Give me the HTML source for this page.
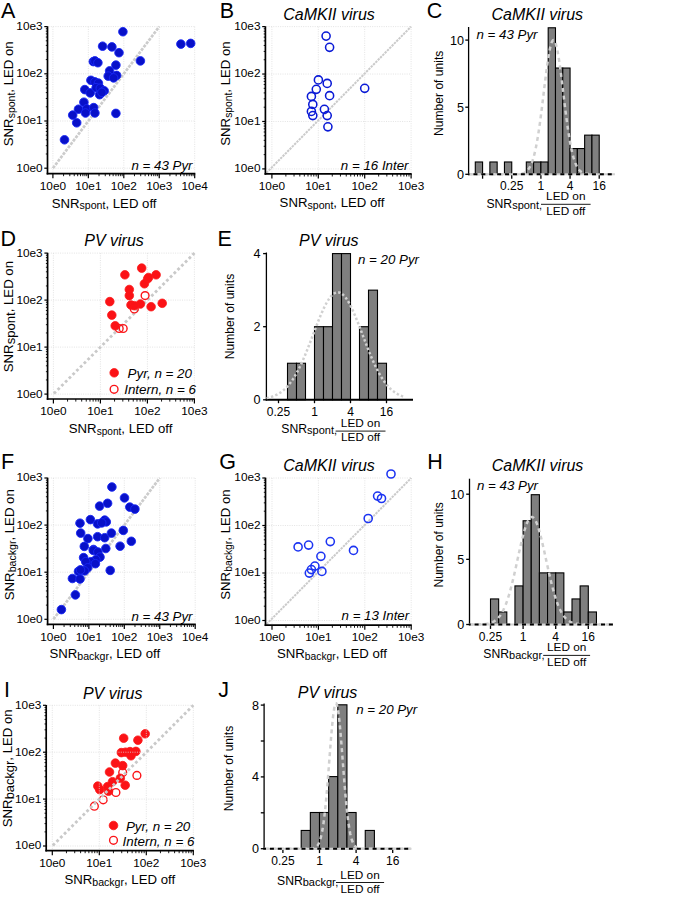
<!DOCTYPE html>
<html><head><meta charset="utf-8"><style>html,body{margin:0;padding:0;background:#fff;overflow:hidden;}svg{display:block;}</style></head>
<body>
<svg width="685" height="898" viewBox="0 0 685 898">
<rect width="685" height="898" fill="#fff"/>
<g font-family='"Liberation Sans", sans-serif' fill="#000">
<g stroke="#dcdcdc" stroke-width="0.8" stroke-dasharray="1 1.3" fill="none">
<line x1="52.90" y1="26.60" x2="52.90" y2="172.60" />
<line x1="88.35" y1="26.60" x2="88.35" y2="172.60" />
<line x1="123.80" y1="26.60" x2="123.80" y2="172.60" />
<line x1="159.25" y1="26.60" x2="159.25" y2="172.60" />
<line x1="194.70" y1="26.60" x2="194.70" y2="172.60" />
<line x1="48.50" y1="168.20" x2="194.70" y2="168.20" />
<line x1="48.50" y1="121.00" x2="194.70" y2="121.00" />
<line x1="48.50" y1="73.80" x2="194.70" y2="73.80" />
<line x1="48.50" y1="26.60" x2="194.70" y2="26.60" />
</g>
<line x1="52.90" y1="168.20" x2="159.25" y2="26.60" stroke="#cccccc" stroke-width="2.7" stroke-dasharray="3 1.2"/>
<circle cx="122.9" cy="31.7" r="4.3" fill="#0810c8" stroke="#1828f4" stroke-width="0.9"/>
<circle cx="102.6" cy="46.2" r="4.3" fill="#0810c8" stroke="#1828f4" stroke-width="0.9"/>
<circle cx="111.9" cy="46.9" r="4.3" fill="#0810c8" stroke="#1828f4" stroke-width="0.9"/>
<circle cx="119.0" cy="52.7" r="4.3" fill="#0810c8" stroke="#1828f4" stroke-width="0.9"/>
<circle cx="180.9" cy="44.1" r="4.3" fill="#0810c8" stroke="#1828f4" stroke-width="0.9"/>
<circle cx="190.7" cy="43.4" r="4.3" fill="#0810c8" stroke="#1828f4" stroke-width="0.9"/>
<circle cx="140.4" cy="60.9" r="4.3" fill="#0810c8" stroke="#1828f4" stroke-width="0.9"/>
<circle cx="93.3" cy="61.6" r="4.3" fill="#0810c8" stroke="#1828f4" stroke-width="0.9"/>
<circle cx="94.9" cy="60.9" r="4.3" fill="#0810c8" stroke="#1828f4" stroke-width="0.9"/>
<circle cx="97.9" cy="62.7" r="4.3" fill="#0810c8" stroke="#1828f4" stroke-width="0.9"/>
<circle cx="115.9" cy="65.1" r="4.3" fill="#0810c8" stroke="#1828f4" stroke-width="0.9"/>
<circle cx="109.6" cy="70.9" r="4.3" fill="#0810c8" stroke="#1828f4" stroke-width="0.9"/>
<circle cx="108.2" cy="76.1" r="4.3" fill="#0810c8" stroke="#1828f4" stroke-width="0.9"/>
<circle cx="116.6" cy="75.4" r="4.3" fill="#0810c8" stroke="#1828f4" stroke-width="0.9"/>
<circle cx="113.6" cy="77.9" r="4.3" fill="#0810c8" stroke="#1828f4" stroke-width="0.9"/>
<circle cx="90.9" cy="80.3" r="4.3" fill="#0810c8" stroke="#1828f4" stroke-width="0.9"/>
<circle cx="94.9" cy="81.9" r="4.3" fill="#0810c8" stroke="#1828f4" stroke-width="0.9"/>
<circle cx="98.4" cy="83.1" r="4.3" fill="#0810c8" stroke="#1828f4" stroke-width="0.9"/>
<circle cx="84.8" cy="89.6" r="4.3" fill="#0810c8" stroke="#1828f4" stroke-width="0.9"/>
<circle cx="90.2" cy="92.9" r="4.3" fill="#0810c8" stroke="#1828f4" stroke-width="0.9"/>
<circle cx="96.1" cy="87.7" r="4.3" fill="#0810c8" stroke="#1828f4" stroke-width="0.9"/>
<circle cx="100.3" cy="88.2" r="4.3" fill="#0810c8" stroke="#1828f4" stroke-width="0.9"/>
<circle cx="104.2" cy="90.8" r="4.3" fill="#0810c8" stroke="#1828f4" stroke-width="0.9"/>
<circle cx="99.6" cy="94.7" r="4.3" fill="#0810c8" stroke="#1828f4" stroke-width="0.9"/>
<circle cx="101.9" cy="92.4" r="4.3" fill="#0810c8" stroke="#1828f4" stroke-width="0.9"/>
<circle cx="83.9" cy="102.2" r="4.3" fill="#0810c8" stroke="#1828f4" stroke-width="0.9"/>
<circle cx="78.5" cy="109.2" r="4.3" fill="#0810c8" stroke="#1828f4" stroke-width="0.9"/>
<circle cx="86.7" cy="108.8" r="4.3" fill="#0810c8" stroke="#1828f4" stroke-width="0.9"/>
<circle cx="85.5" cy="113.0" r="4.3" fill="#0810c8" stroke="#1828f4" stroke-width="0.9"/>
<circle cx="93.7" cy="107.6" r="4.3" fill="#0810c8" stroke="#1828f4" stroke-width="0.9"/>
<circle cx="94.9" cy="113.0" r="4.3" fill="#0810c8" stroke="#1828f4" stroke-width="0.9"/>
<circle cx="72.7" cy="115.1" r="4.3" fill="#0810c8" stroke="#1828f4" stroke-width="0.9"/>
<circle cx="76.7" cy="122.8" r="4.3" fill="#0810c8" stroke="#1828f4" stroke-width="0.9"/>
<circle cx="115.9" cy="113.4" r="4.3" fill="#0810c8" stroke="#1828f4" stroke-width="0.9"/>
<circle cx="64.5" cy="139.8" r="4.3" fill="#0810c8" stroke="#1828f4" stroke-width="0.9"/>
<g stroke="#000" stroke-width="1.7" fill="none">
<line x1="47.50" y1="26.30" x2="47.50" y2="174.45" />
<line x1="46.65" y1="173.60" x2="195.30" y2="173.60" />
</g>
<g stroke="#000" stroke-width="1.2" fill="none">
<line x1="44.30" y1="168.20" x2="47.50" y2="168.20" />
<line x1="45.80" y1="153.99" x2="47.50" y2="153.99" stroke-width="0.9" />
<line x1="45.80" y1="145.68" x2="47.50" y2="145.68" stroke-width="0.9" />
<line x1="45.80" y1="139.78" x2="47.50" y2="139.78" stroke-width="0.9" />
<line x1="45.80" y1="135.21" x2="47.50" y2="135.21" stroke-width="0.9" />
<line x1="45.80" y1="131.47" x2="47.50" y2="131.47" stroke-width="0.9" />
<line x1="45.80" y1="128.31" x2="47.50" y2="128.31" stroke-width="0.9" />
<line x1="45.80" y1="125.57" x2="47.50" y2="125.57" stroke-width="0.9" />
<line x1="45.80" y1="123.16" x2="47.50" y2="123.16" stroke-width="0.9" />
<line x1="44.30" y1="121.00" x2="47.50" y2="121.00" />
<line x1="45.80" y1="106.79" x2="47.50" y2="106.79" stroke-width="0.9" />
<line x1="45.80" y1="98.48" x2="47.50" y2="98.48" stroke-width="0.9" />
<line x1="45.80" y1="92.58" x2="47.50" y2="92.58" stroke-width="0.9" />
<line x1="45.80" y1="88.01" x2="47.50" y2="88.01" stroke-width="0.9" />
<line x1="45.80" y1="84.27" x2="47.50" y2="84.27" stroke-width="0.9" />
<line x1="45.80" y1="81.11" x2="47.50" y2="81.11" stroke-width="0.9" />
<line x1="45.80" y1="78.37" x2="47.50" y2="78.37" stroke-width="0.9" />
<line x1="45.80" y1="75.96" x2="47.50" y2="75.96" stroke-width="0.9" />
<line x1="44.30" y1="73.80" x2="47.50" y2="73.80" />
<line x1="45.80" y1="59.59" x2="47.50" y2="59.59" stroke-width="0.9" />
<line x1="45.80" y1="51.28" x2="47.50" y2="51.28" stroke-width="0.9" />
<line x1="45.80" y1="45.38" x2="47.50" y2="45.38" stroke-width="0.9" />
<line x1="45.80" y1="40.81" x2="47.50" y2="40.81" stroke-width="0.9" />
<line x1="45.80" y1="37.07" x2="47.50" y2="37.07" stroke-width="0.9" />
<line x1="45.80" y1="33.91" x2="47.50" y2="33.91" stroke-width="0.9" />
<line x1="45.80" y1="31.17" x2="47.50" y2="31.17" stroke-width="0.9" />
<line x1="45.80" y1="28.76" x2="47.50" y2="28.76" stroke-width="0.9" />
<line x1="44.30" y1="26.60" x2="47.50" y2="26.60" />
<line x1="52.90" y1="173.60" x2="52.90" y2="178.20" />
<line x1="63.57" y1="173.60" x2="63.57" y2="176.20" stroke-width="0.9" />
<line x1="69.81" y1="173.60" x2="69.81" y2="176.20" stroke-width="0.9" />
<line x1="74.24" y1="173.60" x2="74.24" y2="176.20" stroke-width="0.9" />
<line x1="77.68" y1="173.60" x2="77.68" y2="176.20" stroke-width="0.9" />
<line x1="80.49" y1="173.60" x2="80.49" y2="176.20" stroke-width="0.9" />
<line x1="82.86" y1="173.60" x2="82.86" y2="176.20" stroke-width="0.9" />
<line x1="84.91" y1="173.60" x2="84.91" y2="176.20" stroke-width="0.9" />
<line x1="86.73" y1="173.60" x2="86.73" y2="176.20" stroke-width="0.9" />
<line x1="88.35" y1="173.60" x2="88.35" y2="178.20" />
<line x1="99.02" y1="173.60" x2="99.02" y2="176.20" stroke-width="0.9" />
<line x1="105.26" y1="173.60" x2="105.26" y2="176.20" stroke-width="0.9" />
<line x1="109.69" y1="173.60" x2="109.69" y2="176.20" stroke-width="0.9" />
<line x1="113.13" y1="173.60" x2="113.13" y2="176.20" stroke-width="0.9" />
<line x1="115.94" y1="173.60" x2="115.94" y2="176.20" stroke-width="0.9" />
<line x1="118.31" y1="173.60" x2="118.31" y2="176.20" stroke-width="0.9" />
<line x1="120.36" y1="173.60" x2="120.36" y2="176.20" stroke-width="0.9" />
<line x1="122.18" y1="173.60" x2="122.18" y2="176.20" stroke-width="0.9" />
<line x1="123.80" y1="173.60" x2="123.80" y2="178.20" />
<line x1="134.47" y1="173.60" x2="134.47" y2="176.20" stroke-width="0.9" />
<line x1="140.71" y1="173.60" x2="140.71" y2="176.20" stroke-width="0.9" />
<line x1="145.14" y1="173.60" x2="145.14" y2="176.20" stroke-width="0.9" />
<line x1="148.58" y1="173.60" x2="148.58" y2="176.20" stroke-width="0.9" />
<line x1="151.39" y1="173.60" x2="151.39" y2="176.20" stroke-width="0.9" />
<line x1="153.76" y1="173.60" x2="153.76" y2="176.20" stroke-width="0.9" />
<line x1="155.81" y1="173.60" x2="155.81" y2="176.20" stroke-width="0.9" />
<line x1="157.63" y1="173.60" x2="157.63" y2="176.20" stroke-width="0.9" />
<line x1="159.25" y1="173.60" x2="159.25" y2="178.20" />
<line x1="169.92" y1="173.60" x2="169.92" y2="176.20" stroke-width="0.9" />
<line x1="176.16" y1="173.60" x2="176.16" y2="176.20" stroke-width="0.9" />
<line x1="180.59" y1="173.60" x2="180.59" y2="176.20" stroke-width="0.9" />
<line x1="184.03" y1="173.60" x2="184.03" y2="176.20" stroke-width="0.9" />
<line x1="186.84" y1="173.60" x2="186.84" y2="176.20" stroke-width="0.9" />
<line x1="189.21" y1="173.60" x2="189.21" y2="176.20" stroke-width="0.9" />
<line x1="191.26" y1="173.60" x2="191.26" y2="176.20" stroke-width="0.9" />
<line x1="193.08" y1="173.60" x2="193.08" y2="176.20" stroke-width="0.9" />
<line x1="194.70" y1="173.60" x2="194.70" y2="178.20" />
</g>
<text x="42.60" y="171.60" font-size="11.8" text-anchor="end" >10e0</text>
<text x="42.60" y="124.40" font-size="11.8" text-anchor="end" >10e1</text>
<text x="42.60" y="77.20" font-size="11.8" text-anchor="end" >10e2</text>
<text x="42.60" y="30.00" font-size="11.8" text-anchor="end" >10e3</text>
<text x="52.90" y="189.80" font-size="11.8" text-anchor="middle" >10e0</text>
<text x="88.35" y="189.80" font-size="11.8" text-anchor="middle" >10e1</text>
<text x="123.80" y="189.80" font-size="11.8" text-anchor="middle" >10e2</text>
<text x="159.25" y="189.80" font-size="11.8" text-anchor="middle" >10e3</text>
<text x="194.70" y="189.80" font-size="11.8" text-anchor="middle" >10e4</text>
<text x="1.00" y="17.60" font-size="21.5" text-anchor="start" >A</text>
<text x="51.70" y="207.60" font-size="13.2">SNR<tspan font-size="10.6" dy="1.7">spont</tspan><tspan dy="-1.7">, LED off</tspan></text>
<text transform="translate(12.60,146.20) rotate(-90)" font-size="13.2">SNR<tspan font-size="10.5" dy="2.0">spont</tspan><tspan dy="-2.0">, LED on</tspan></text>
<text x="192.50" y="170.10" font-size="13.3" text-anchor="end" font-style="italic" >n = 43 Pyr</text>
<g stroke="#dcdcdc" stroke-width="0.8" stroke-dasharray="1 1.3" fill="none">
<line x1="271.90" y1="26.61" x2="271.90" y2="172.90" />
<line x1="318.30" y1="26.61" x2="318.30" y2="172.90" />
<line x1="364.70" y1="26.61" x2="364.70" y2="172.90" />
<line x1="411.10" y1="26.61" x2="411.10" y2="172.90" />
<line x1="266.40" y1="168.90" x2="411.10" y2="168.90" />
<line x1="266.40" y1="121.47" x2="411.10" y2="121.47" />
<line x1="266.40" y1="74.04" x2="411.10" y2="74.04" />
<line x1="266.40" y1="26.61" x2="411.10" y2="26.61" />
</g>
<line x1="266.40" y1="172.90" x2="411.10" y2="26.61" stroke="#cbcbcb" stroke-width="2.0" stroke-dasharray="2.4 0.9"/>
<circle cx="326.1" cy="36.1" r="4.05" fill="none" stroke="#0a1ad6" stroke-width="1.55"/>
<circle cx="329.6" cy="47.3" r="4.05" fill="none" stroke="#0a1ad6" stroke-width="1.55"/>
<circle cx="318.4" cy="79.9" r="4.05" fill="none" stroke="#0a1ad6" stroke-width="1.55"/>
<circle cx="327.2" cy="83.4" r="4.05" fill="none" stroke="#0a1ad6" stroke-width="1.55"/>
<circle cx="316.3" cy="89.3" r="4.05" fill="none" stroke="#0a1ad6" stroke-width="1.55"/>
<circle cx="311.4" cy="96.4" r="4.05" fill="none" stroke="#0a1ad6" stroke-width="1.55"/>
<circle cx="329.6" cy="95.7" r="4.05" fill="none" stroke="#0a1ad6" stroke-width="1.55"/>
<circle cx="364.7" cy="88.3" r="4.05" fill="none" stroke="#0a1ad6" stroke-width="1.55"/>
<circle cx="312.8" cy="104.4" r="4.05" fill="none" stroke="#0a1ad6" stroke-width="1.55"/>
<circle cx="311.4" cy="111.4" r="4.05" fill="none" stroke="#0a1ad6" stroke-width="1.55"/>
<circle cx="312.8" cy="115.6" r="4.05" fill="none" stroke="#0a1ad6" stroke-width="1.55"/>
<circle cx="324.4" cy="109.3" r="4.05" fill="none" stroke="#0a1ad6" stroke-width="1.55"/>
<circle cx="327.2" cy="115.6" r="4.05" fill="none" stroke="#0a1ad6" stroke-width="1.55"/>
<circle cx="327.9" cy="126.8" r="4.05" fill="none" stroke="#0a1ad6" stroke-width="1.55"/>
<g stroke="#000" stroke-width="1.7" fill="none">
<line x1="265.40" y1="26.31" x2="265.40" y2="174.75" />
<line x1="264.55" y1="173.90" x2="411.70" y2="173.90" />
</g>
<g stroke="#000" stroke-width="1.2" fill="none">
<line x1="262.20" y1="168.90" x2="265.40" y2="168.90" />
<line x1="263.70" y1="154.62" x2="265.40" y2="154.62" stroke-width="0.9" />
<line x1="263.70" y1="146.27" x2="265.40" y2="146.27" stroke-width="0.9" />
<line x1="263.70" y1="140.34" x2="265.40" y2="140.34" stroke-width="0.9" />
<line x1="263.70" y1="135.75" x2="265.40" y2="135.75" stroke-width="0.9" />
<line x1="263.70" y1="131.99" x2="265.40" y2="131.99" stroke-width="0.9" />
<line x1="263.70" y1="128.82" x2="265.40" y2="128.82" stroke-width="0.9" />
<line x1="263.70" y1="126.07" x2="265.40" y2="126.07" stroke-width="0.9" />
<line x1="263.70" y1="123.64" x2="265.40" y2="123.64" stroke-width="0.9" />
<line x1="262.20" y1="121.47" x2="265.40" y2="121.47" />
<line x1="263.70" y1="107.19" x2="265.40" y2="107.19" stroke-width="0.9" />
<line x1="263.70" y1="98.84" x2="265.40" y2="98.84" stroke-width="0.9" />
<line x1="263.70" y1="92.91" x2="265.40" y2="92.91" stroke-width="0.9" />
<line x1="263.70" y1="88.32" x2="265.40" y2="88.32" stroke-width="0.9" />
<line x1="263.70" y1="84.56" x2="265.40" y2="84.56" stroke-width="0.9" />
<line x1="263.70" y1="81.39" x2="265.40" y2="81.39" stroke-width="0.9" />
<line x1="263.70" y1="78.64" x2="265.40" y2="78.64" stroke-width="0.9" />
<line x1="263.70" y1="76.21" x2="265.40" y2="76.21" stroke-width="0.9" />
<line x1="262.20" y1="74.04" x2="265.40" y2="74.04" />
<line x1="263.70" y1="59.76" x2="265.40" y2="59.76" stroke-width="0.9" />
<line x1="263.70" y1="51.41" x2="265.40" y2="51.41" stroke-width="0.9" />
<line x1="263.70" y1="45.48" x2="265.40" y2="45.48" stroke-width="0.9" />
<line x1="263.70" y1="40.89" x2="265.40" y2="40.89" stroke-width="0.9" />
<line x1="263.70" y1="37.13" x2="265.40" y2="37.13" stroke-width="0.9" />
<line x1="263.70" y1="33.96" x2="265.40" y2="33.96" stroke-width="0.9" />
<line x1="263.70" y1="31.21" x2="265.40" y2="31.21" stroke-width="0.9" />
<line x1="263.70" y1="28.78" x2="265.40" y2="28.78" stroke-width="0.9" />
<line x1="262.20" y1="26.61" x2="265.40" y2="26.61" />
<line x1="271.90" y1="173.90" x2="271.90" y2="178.50" />
<line x1="285.87" y1="173.90" x2="285.87" y2="176.50" stroke-width="0.9" />
<line x1="294.04" y1="173.90" x2="294.04" y2="176.50" stroke-width="0.9" />
<line x1="299.84" y1="173.90" x2="299.84" y2="176.50" stroke-width="0.9" />
<line x1="304.33" y1="173.90" x2="304.33" y2="176.50" stroke-width="0.9" />
<line x1="308.01" y1="173.90" x2="308.01" y2="176.50" stroke-width="0.9" />
<line x1="311.11" y1="173.90" x2="311.11" y2="176.50" stroke-width="0.9" />
<line x1="313.80" y1="173.90" x2="313.80" y2="176.50" stroke-width="0.9" />
<line x1="316.18" y1="173.90" x2="316.18" y2="176.50" stroke-width="0.9" />
<line x1="318.30" y1="173.90" x2="318.30" y2="178.50" />
<line x1="332.27" y1="173.90" x2="332.27" y2="176.50" stroke-width="0.9" />
<line x1="340.44" y1="173.90" x2="340.44" y2="176.50" stroke-width="0.9" />
<line x1="346.24" y1="173.90" x2="346.24" y2="176.50" stroke-width="0.9" />
<line x1="350.73" y1="173.90" x2="350.73" y2="176.50" stroke-width="0.9" />
<line x1="354.41" y1="173.90" x2="354.41" y2="176.50" stroke-width="0.9" />
<line x1="357.51" y1="173.90" x2="357.51" y2="176.50" stroke-width="0.9" />
<line x1="360.20" y1="173.90" x2="360.20" y2="176.50" stroke-width="0.9" />
<line x1="362.58" y1="173.90" x2="362.58" y2="176.50" stroke-width="0.9" />
<line x1="364.70" y1="173.90" x2="364.70" y2="178.50" />
<line x1="378.67" y1="173.90" x2="378.67" y2="176.50" stroke-width="0.9" />
<line x1="386.84" y1="173.90" x2="386.84" y2="176.50" stroke-width="0.9" />
<line x1="392.64" y1="173.90" x2="392.64" y2="176.50" stroke-width="0.9" />
<line x1="397.13" y1="173.90" x2="397.13" y2="176.50" stroke-width="0.9" />
<line x1="400.81" y1="173.90" x2="400.81" y2="176.50" stroke-width="0.9" />
<line x1="403.91" y1="173.90" x2="403.91" y2="176.50" stroke-width="0.9" />
<line x1="406.60" y1="173.90" x2="406.60" y2="176.50" stroke-width="0.9" />
<line x1="408.98" y1="173.90" x2="408.98" y2="176.50" stroke-width="0.9" />
<line x1="411.10" y1="173.90" x2="411.10" y2="178.50" />
</g>
<text x="260.50" y="172.30" font-size="11.8" text-anchor="end" >10e0</text>
<text x="260.50" y="124.87" font-size="11.8" text-anchor="end" >10e1</text>
<text x="260.50" y="77.44" font-size="11.8" text-anchor="end" >10e2</text>
<text x="260.50" y="30.01" font-size="11.8" text-anchor="end" >10e3</text>
<text x="271.90" y="190.10" font-size="11.8" text-anchor="middle" >10e0</text>
<text x="318.30" y="190.10" font-size="11.8" text-anchor="middle" >10e1</text>
<text x="364.70" y="190.10" font-size="11.8" text-anchor="middle" >10e2</text>
<text x="411.10" y="190.10" font-size="11.8" text-anchor="middle" >10e3</text>
<text x="219.70" y="17.80" font-size="21.5" text-anchor="start" >B</text>
<text x="329.00" y="19.60" font-size="16" text-anchor="middle" font-style="italic" >CaMKII virus</text>
<text x="279.60" y="207.00" font-size="13.2">SNR<tspan font-size="10.6" dy="2.0">spont</tspan><tspan dy="-2.0">, LED off</tspan></text>
<text transform="translate(229.70,145.70) rotate(-90)" font-size="13.2">SNR<tspan font-size="10.3" dy="2.0">spont</tspan><tspan dy="-2.0">, LED on</tspan></text>
<text x="408.50" y="170.10" font-size="13.3" text-anchor="end" font-style="italic" >n = 16 Inter</text>
<g fill="#7f7f7f" stroke="#000" stroke-width="1.1">
<rect x="475.29" y="161.98" width="7.29" height="12.32"/>
<rect x="489.87" y="161.98" width="7.29" height="12.32"/>
<rect x="504.45" y="161.98" width="7.29" height="12.32"/>
<rect x="526.32" y="161.98" width="7.29" height="12.32"/>
<rect x="533.61" y="161.98" width="7.29" height="12.32"/>
<rect x="540.90" y="161.98" width="7.29" height="12.32"/>
<rect x="548.19" y="27.78" width="7.29" height="146.52"/>
<rect x="555.48" y="68.04" width="7.29" height="106.26"/>
<rect x="562.77" y="68.04" width="7.29" height="106.26"/>
<rect x="570.06" y="148.56" width="7.29" height="25.74"/>
<rect x="577.35" y="148.56" width="7.29" height="25.74"/>
<rect x="584.64" y="135.14" width="7.29" height="39.16"/>
<rect x="591.93" y="135.14" width="7.29" height="39.16"/>
</g>
<g stroke="#000" stroke-width="1.3" fill="none">
<line x1="468.60" y1="27.00" x2="468.60" y2="175.10" />
<line x1="465.30" y1="174.30" x2="468.60" y2="174.30" />
<line x1="465.30" y1="107.20" x2="468.60" y2="107.20" />
<line x1="465.30" y1="40.10" x2="468.60" y2="40.10" />
<line x1="482.58" y1="174.30" x2="482.58" y2="178.70" />
<line x1="511.74" y1="174.30" x2="511.74" y2="178.70" />
<line x1="540.90" y1="174.30" x2="540.90" y2="178.70" />
<line x1="570.06" y1="174.30" x2="570.06" y2="178.70" />
<line x1="599.22" y1="174.30" x2="599.22" y2="178.70" />
</g>
<polyline points="468.60,174.30 469.21,174.30 469.82,174.30 470.43,174.30 471.04,174.30 471.65,174.30 472.26,174.30 472.87,174.30 473.48,174.30 474.09,174.30 474.70,174.30 475.31,174.30 475.92,174.30 476.53,174.30 477.14,174.30 477.75,174.30 478.36,174.30 478.97,174.30 479.58,174.30 480.19,174.30 480.80,174.30 481.41,174.30 482.02,174.30 482.63,174.30 483.24,174.30 483.85,174.30 484.46,174.30 485.07,174.30 485.68,174.30 486.29,174.30 486.90,174.30 487.51,174.30 488.12,174.30 488.73,174.30 489.34,174.30 489.95,174.30 490.56,174.30 491.17,174.30 491.78,174.30 492.39,174.30 493.00,174.30 493.61,174.30 494.22,174.30 494.83,174.30 495.44,174.30 496.05,174.30 496.66,174.30 497.27,174.30 497.88,174.30 498.49,174.30 499.10,174.30 499.71,174.30 500.32,174.30 500.93,174.30 501.54,174.30 502.15,174.30 502.76,174.30 503.37,174.30 503.98,174.30 504.59,174.30 505.20,174.30 505.81,174.30 506.42,174.30 507.03,174.30 507.64,174.30 508.25,174.30 508.86,174.30 509.47,174.29 510.08,174.29 510.69,174.29 511.30,174.29 511.91,174.28 512.52,174.28 513.13,174.27 513.74,174.26 514.35,174.25 514.96,174.24 515.57,174.23 516.18,174.20 516.79,174.18 517.40,174.15 518.01,174.11 518.62,174.06 519.23,174.00 519.84,173.93 520.45,173.84 521.06,173.74 521.67,173.61 522.28,173.46 522.89,173.28 523.50,173.06 524.11,172.80 524.72,172.50 525.33,172.14 525.94,171.73 526.55,171.24 527.16,170.68 527.77,170.03 528.38,169.28 528.99,168.42 529.60,167.44 530.21,166.33 530.82,165.08 531.43,163.67 532.04,162.10 532.65,160.34 533.26,158.40 533.87,156.25 534.48,153.89 535.09,151.32 535.70,148.51 536.31,145.48 536.92,142.22 537.53,138.73 538.14,135.01 538.75,131.06 539.36,126.91 539.97,122.56 540.58,118.02 541.19,113.33 541.80,108.50 542.41,103.56 543.02,98.54 543.63,93.48 544.24,88.42 544.85,83.40 545.46,78.45 546.07,73.62 546.68,68.96 547.29,64.51 547.90,60.32 548.51,56.42 549.12,52.86 549.73,49.67 550.34,46.90 550.95,44.57 551.56,42.70 552.17,41.33 552.78,40.46 553.39,40.11 554.00,40.27 554.61,40.96 555.22,42.15 555.83,43.84 556.44,46.01 557.05,48.62 557.66,51.66 558.27,55.09 558.88,58.87 559.49,62.97 560.10,67.33 560.71,71.92 561.32,76.69 561.93,81.60 562.54,86.60 563.15,91.66 563.76,96.72 564.37,101.76 564.98,106.73 565.59,111.60 566.20,116.35 566.81,120.94 567.42,125.36 568.03,129.59 568.64,133.61 569.25,137.41 569.86,140.99 570.47,144.33 571.08,147.45 571.69,150.33 572.30,152.99 572.91,155.42 573.52,157.65 574.13,159.66 574.74,161.48 575.35,163.12 575.96,164.59 576.57,165.90 577.18,167.06 577.79,168.08 578.40,168.98 579.01,169.77 579.62,170.45 580.23,171.05 580.84,171.56 581.45,172.00 582.06,172.38 582.67,172.70 583.28,172.97 583.89,173.20 584.50,173.40 585.11,173.56 585.72,173.70 586.33,173.81 586.94,173.90 587.55,173.98 588.16,174.04 588.77,174.09 589.38,174.14 589.99,174.17 590.60,174.20 591.21,174.22 591.82,174.24 592.43,174.25 593.04,174.26 593.65,174.27 594.26,174.28 594.87,174.28 595.48,174.29 596.09,174.29 596.70,174.29 597.31,174.29 597.92,174.30 598.53,174.30 599.14,174.30 599.75,174.30 600.36,174.30 600.97,174.30 601.58,174.30 602.19,174.30 602.80,174.30 603.41,174.30 604.02,174.30 604.63,174.30 605.24,174.30 605.85,174.30 606.46,174.30 607.07,174.30 607.68,174.30 608.29,174.30 608.90,174.30 609.51,174.30 610.12,174.30 610.73,174.30 611.34,174.30 611.95,174.30 612.56,174.30 613.17,174.30 613.78,174.30 614.39,174.30 615.00,174.30" fill="none" stroke="#d0d0d0" stroke-width="2.5" stroke-dasharray="4 3.6"/>
<line x1="468.60" y1="174.30" x2="615.00" y2="174.30" stroke-width="1.9" stroke="#d2d2d2"/>
<line x1="467.95" y1="174.30" x2="615.00" y2="174.30" stroke-width="2.0" stroke="#000" stroke-dasharray="4 3.9" stroke-dashoffset="2.4"/>
<text x="463.90" y="178.70" font-size="12.6" text-anchor="end" >0</text>
<text x="463.90" y="111.60" font-size="12.6" text-anchor="end" >5</text>
<text x="463.90" y="44.50" font-size="12.6" text-anchor="end" >10</text>
<text x="511.74" y="190.30" font-size="12" text-anchor="middle" >0.25</text>
<text x="540.90" y="190.30" font-size="12" text-anchor="middle" >1</text>
<text x="570.06" y="190.30" font-size="12" text-anchor="middle" >4</text>
<text x="599.22" y="190.30" font-size="12" text-anchor="middle" >16</text>
<text x="426.80" y="17.90" font-size="21.5" text-anchor="start" >C</text>
<text x="537.30" y="19.60" font-size="16" text-anchor="middle" font-style="italic" >CaMKII virus</text>
<text transform="translate(443.00,93.30) rotate(-90)" font-size="12.1" text-anchor="middle">Number of units</text>
<text x="537.50" y="39.30" font-size="13.3" text-anchor="end" font-style="italic" >n = 43 Pyr</text>
<text x="486.40" y="208.00" font-size="12.2">SNR<tspan font-size="11" dy="0.8">spont,</tspan></text>
<text x="565.80" y="200.30" font-size="11.8" text-anchor="middle" >LED on</text>
<text x="565.80" y="215.20" font-size="11.8" text-anchor="middle" >LED off</text>
<line x1="541.00" y1="204.30" x2="590.60" y2="204.30" stroke="#000" stroke-width="0.9"/>
<g stroke="#dcdcdc" stroke-width="0.8" stroke-dasharray="1 1.3" fill="none">
<line x1="53.40" y1="253.10" x2="53.40" y2="398.00" />
<line x1="100.40" y1="253.10" x2="100.40" y2="398.00" />
<line x1="147.40" y1="253.10" x2="147.40" y2="398.00" />
<line x1="194.40" y1="253.10" x2="194.40" y2="398.00" />
<line x1="48.60" y1="394.10" x2="194.40" y2="394.10" />
<line x1="48.60" y1="347.10" x2="194.40" y2="347.10" />
<line x1="48.60" y1="300.10" x2="194.40" y2="300.10" />
<line x1="48.60" y1="253.10" x2="194.40" y2="253.10" />
</g>
<line x1="53.90" y1="393.60" x2="194.40" y2="253.10" stroke="#c9c9c9" stroke-width="2.8" stroke-dasharray="2.8 2.5"/>
<circle cx="141.7" cy="268.1" r="4.3" fill="#fb1216" stroke="#fb1818" stroke-width="0.8"/>
<circle cx="124.9" cy="274.8" r="4.3" fill="#fb1216" stroke="#fb1818" stroke-width="0.8"/>
<circle cx="156.1" cy="274.8" r="4.3" fill="#fb1216" stroke="#fb1818" stroke-width="0.8"/>
<circle cx="147.7" cy="278.8" r="4.3" fill="#fb1216" stroke="#fb1818" stroke-width="0.8"/>
<circle cx="144.4" cy="283.8" r="4.3" fill="#fb1216" stroke="#fb1818" stroke-width="0.8"/>
<circle cx="129.3" cy="289.5" r="4.3" fill="#fb1216" stroke="#fb1818" stroke-width="0.8"/>
<circle cx="129.3" cy="295.6" r="4.3" fill="#fb1216" stroke="#fb1818" stroke-width="0.8"/>
<circle cx="109.8" cy="301.6" r="4.3" fill="#fb1216" stroke="#fb1818" stroke-width="0.8"/>
<circle cx="131.0" cy="305.0" r="4.3" fill="#fb1216" stroke="#fb1818" stroke-width="0.8"/>
<circle cx="140.4" cy="304.0" r="4.3" fill="#fb1216" stroke="#fb1818" stroke-width="0.8"/>
<circle cx="151.1" cy="306.7" r="4.3" fill="#fb1216" stroke="#fb1818" stroke-width="0.8"/>
<circle cx="162.2" cy="303.3" r="4.3" fill="#fb1216" stroke="#fb1818" stroke-width="0.8"/>
<circle cx="111.8" cy="315.1" r="4.3" fill="#fb1216" stroke="#fb1818" stroke-width="0.8"/>
<circle cx="115.2" cy="325.8" r="4.3" fill="#fb1216" stroke="#fb1818" stroke-width="0.8"/>
<circle cx="134.3" cy="305.7" r="4.3" fill="#fb1216" stroke="#fb1818" stroke-width="0.8"/>
<circle cx="148.5" cy="277.5" r="4.3" fill="#fb1216" stroke="#fb1818" stroke-width="0.8"/>
<circle cx="145.1" cy="295.6" r="3.9" fill="none" stroke="#fb1418" stroke-width="1.4"/>
<circle cx="134.3" cy="309.0" r="3.9" fill="none" stroke="#fb1418" stroke-width="1.4"/>
<circle cx="119.2" cy="328.5" r="3.9" fill="none" stroke="#fb1418" stroke-width="1.4"/>
<circle cx="123.2" cy="328.5" r="3.9" fill="none" stroke="#fb1418" stroke-width="1.4"/>
<g stroke="#000" stroke-width="1.7" fill="none">
<line x1="47.60" y1="252.80" x2="47.60" y2="399.85" />
<line x1="46.75" y1="399.00" x2="195.00" y2="399.00" />
</g>
<g stroke="#000" stroke-width="1.2" fill="none">
<line x1="44.40" y1="394.10" x2="47.60" y2="394.10" />
<line x1="45.90" y1="379.95" x2="47.60" y2="379.95" stroke-width="0.9" />
<line x1="45.90" y1="371.68" x2="47.60" y2="371.68" stroke-width="0.9" />
<line x1="45.90" y1="365.80" x2="47.60" y2="365.80" stroke-width="0.9" />
<line x1="45.90" y1="361.25" x2="47.60" y2="361.25" stroke-width="0.9" />
<line x1="45.90" y1="357.53" x2="47.60" y2="357.53" stroke-width="0.9" />
<line x1="45.90" y1="354.38" x2="47.60" y2="354.38" stroke-width="0.9" />
<line x1="45.90" y1="351.65" x2="47.60" y2="351.65" stroke-width="0.9" />
<line x1="45.90" y1="349.25" x2="47.60" y2="349.25" stroke-width="0.9" />
<line x1="44.40" y1="347.10" x2="47.60" y2="347.10" />
<line x1="45.90" y1="332.95" x2="47.60" y2="332.95" stroke-width="0.9" />
<line x1="45.90" y1="324.68" x2="47.60" y2="324.68" stroke-width="0.9" />
<line x1="45.90" y1="318.80" x2="47.60" y2="318.80" stroke-width="0.9" />
<line x1="45.90" y1="314.25" x2="47.60" y2="314.25" stroke-width="0.9" />
<line x1="45.90" y1="310.53" x2="47.60" y2="310.53" stroke-width="0.9" />
<line x1="45.90" y1="307.38" x2="47.60" y2="307.38" stroke-width="0.9" />
<line x1="45.90" y1="304.65" x2="47.60" y2="304.65" stroke-width="0.9" />
<line x1="45.90" y1="302.25" x2="47.60" y2="302.25" stroke-width="0.9" />
<line x1="44.40" y1="300.10" x2="47.60" y2="300.10" />
<line x1="45.90" y1="285.95" x2="47.60" y2="285.95" stroke-width="0.9" />
<line x1="45.90" y1="277.68" x2="47.60" y2="277.68" stroke-width="0.9" />
<line x1="45.90" y1="271.80" x2="47.60" y2="271.80" stroke-width="0.9" />
<line x1="45.90" y1="267.25" x2="47.60" y2="267.25" stroke-width="0.9" />
<line x1="45.90" y1="263.53" x2="47.60" y2="263.53" stroke-width="0.9" />
<line x1="45.90" y1="260.38" x2="47.60" y2="260.38" stroke-width="0.9" />
<line x1="45.90" y1="257.65" x2="47.60" y2="257.65" stroke-width="0.9" />
<line x1="45.90" y1="255.25" x2="47.60" y2="255.25" stroke-width="0.9" />
<line x1="44.40" y1="253.10" x2="47.60" y2="253.10" />
<line x1="53.40" y1="399.00" x2="53.40" y2="403.60" />
<line x1="67.55" y1="399.00" x2="67.55" y2="401.60" stroke-width="0.9" />
<line x1="75.82" y1="399.00" x2="75.82" y2="401.60" stroke-width="0.9" />
<line x1="81.70" y1="399.00" x2="81.70" y2="401.60" stroke-width="0.9" />
<line x1="86.25" y1="399.00" x2="86.25" y2="401.60" stroke-width="0.9" />
<line x1="89.97" y1="399.00" x2="89.97" y2="401.60" stroke-width="0.9" />
<line x1="93.12" y1="399.00" x2="93.12" y2="401.60" stroke-width="0.9" />
<line x1="95.85" y1="399.00" x2="95.85" y2="401.60" stroke-width="0.9" />
<line x1="98.25" y1="399.00" x2="98.25" y2="401.60" stroke-width="0.9" />
<line x1="100.40" y1="399.00" x2="100.40" y2="403.60" />
<line x1="114.55" y1="399.00" x2="114.55" y2="401.60" stroke-width="0.9" />
<line x1="122.82" y1="399.00" x2="122.82" y2="401.60" stroke-width="0.9" />
<line x1="128.70" y1="399.00" x2="128.70" y2="401.60" stroke-width="0.9" />
<line x1="133.25" y1="399.00" x2="133.25" y2="401.60" stroke-width="0.9" />
<line x1="136.97" y1="399.00" x2="136.97" y2="401.60" stroke-width="0.9" />
<line x1="140.12" y1="399.00" x2="140.12" y2="401.60" stroke-width="0.9" />
<line x1="142.85" y1="399.00" x2="142.85" y2="401.60" stroke-width="0.9" />
<line x1="145.25" y1="399.00" x2="145.25" y2="401.60" stroke-width="0.9" />
<line x1="147.40" y1="399.00" x2="147.40" y2="403.60" />
<line x1="161.55" y1="399.00" x2="161.55" y2="401.60" stroke-width="0.9" />
<line x1="169.82" y1="399.00" x2="169.82" y2="401.60" stroke-width="0.9" />
<line x1="175.70" y1="399.00" x2="175.70" y2="401.60" stroke-width="0.9" />
<line x1="180.25" y1="399.00" x2="180.25" y2="401.60" stroke-width="0.9" />
<line x1="183.97" y1="399.00" x2="183.97" y2="401.60" stroke-width="0.9" />
<line x1="187.12" y1="399.00" x2="187.12" y2="401.60" stroke-width="0.9" />
<line x1="189.85" y1="399.00" x2="189.85" y2="401.60" stroke-width="0.9" />
<line x1="192.25" y1="399.00" x2="192.25" y2="401.60" stroke-width="0.9" />
<line x1="194.40" y1="399.00" x2="194.40" y2="403.60" />
</g>
<text x="42.70" y="397.50" font-size="11.8" text-anchor="end" >10e0</text>
<text x="42.70" y="350.50" font-size="11.8" text-anchor="end" >10e1</text>
<text x="42.70" y="303.50" font-size="11.8" text-anchor="end" >10e2</text>
<text x="42.70" y="256.50" font-size="11.8" text-anchor="end" >10e3</text>
<text x="53.40" y="415.20" font-size="11.8" text-anchor="middle" >10e0</text>
<text x="100.40" y="415.20" font-size="11.8" text-anchor="middle" >10e1</text>
<text x="147.40" y="415.20" font-size="11.8" text-anchor="middle" >10e2</text>
<text x="194.40" y="415.20" font-size="11.8" text-anchor="middle" >10e3</text>
<text x="0.40" y="245.60" font-size="21.5" text-anchor="start" >D</text>
<text x="114.00" y="245.70" font-size="16" text-anchor="middle" font-style="italic" >PV virus</text>
<text x="68.80" y="432.50" font-size="13.2">SNR<tspan font-size="10.1" dy="2.6">spont</tspan><tspan dy="-2.6">, LED off</tspan></text>
<text transform="translate(13.30,372.20) rotate(-90)" font-size="13.2">SNR<tspan font-size="13.1" dy="1.8">spont</tspan><tspan dy="-1.8">, LED on</tspan></text>
<circle cx="114.2" cy="372.8" r="4.3" fill="#fb1216" stroke="#fb1818" stroke-width="0.8"/>
<text x="127.60" y="378.40" font-size="13.4" text-anchor="start" font-style="italic" >Pyr, n = 20</text>
<circle cx="114.1" cy="389.3" r="3.9" fill="none" stroke="#fb1418" stroke-width="1.4"/>
<text x="124.20" y="393.90" font-size="13.4" text-anchor="start" font-style="italic" >Intern, n = 6</text>
<g fill="#7f7f7f" stroke="#000" stroke-width="1.1">
<rect x="287.50" y="363.25" width="9.00" height="36.55"/>
<rect x="296.50" y="363.25" width="9.00" height="36.55"/>
<rect x="314.50" y="326.70" width="9.00" height="73.10"/>
<rect x="323.50" y="326.70" width="9.00" height="73.10"/>
<rect x="332.50" y="253.60" width="9.00" height="146.20"/>
<rect x="341.50" y="253.60" width="9.00" height="146.20"/>
<rect x="359.50" y="326.70" width="9.00" height="73.10"/>
<rect x="368.50" y="290.15" width="9.00" height="109.65"/>
<rect x="377.50" y="363.25" width="9.00" height="36.55"/>
</g>
<g stroke="#000" stroke-width="1.3" fill="none">
<line x1="266.40" y1="252.50" x2="266.40" y2="400.60" />
<line x1="263.10" y1="399.80" x2="266.40" y2="399.80" />
<line x1="263.10" y1="326.70" x2="266.40" y2="326.70" />
<line x1="263.10" y1="253.60" x2="266.40" y2="253.60" />
<line x1="278.50" y1="399.80" x2="278.50" y2="403.20" />
<line x1="314.50" y1="399.80" x2="314.50" y2="403.20" />
<line x1="350.50" y1="399.80" x2="350.50" y2="403.20" />
<line x1="386.50" y1="399.80" x2="386.50" y2="403.20" />
</g>
<line x1="265.75" y1="399.80" x2="413.00" y2="399.80" stroke-width="1.9" stroke="#000"/>
<polyline points="266.50,398.13 267.08,398.02 267.65,397.89 268.23,397.76 268.81,397.63 269.39,397.48 269.96,397.33 270.54,397.16 271.12,396.99 271.69,396.81 272.27,396.62 272.85,396.41 273.43,396.20 274.00,395.98 274.58,395.74 275.16,395.49 275.73,395.23 276.31,394.95 276.89,394.66 277.46,394.36 278.04,394.04 278.62,393.71 279.20,393.36 279.77,393.00 280.35,392.61 280.93,392.21 281.50,391.80 282.08,391.36 282.66,390.91 283.24,390.43 283.81,389.94 284.39,389.43 284.97,388.89 285.54,388.34 286.12,387.76 286.70,387.16 287.27,386.54 287.85,385.89 288.43,385.22 289.01,384.53 289.58,383.81 290.16,383.07 290.74,382.31 291.31,381.51 291.89,380.70 292.47,379.86 293.05,378.99 293.62,378.09 294.20,377.17 294.78,376.23 295.35,375.25 295.93,374.26 296.51,373.23 297.09,372.18 297.66,371.10 298.24,370.00 298.82,368.87 299.39,367.72 299.97,366.54 300.55,365.34 301.12,364.11 301.70,362.86 302.28,361.59 302.86,360.30 303.43,358.98 304.01,357.64 304.59,356.29 305.16,354.91 305.74,353.52 306.32,352.10 306.90,350.68 307.47,349.23 308.05,347.77 308.63,346.30 309.20,344.82 309.78,343.33 310.36,341.83 310.94,340.32 311.51,338.81 312.09,337.29 312.67,335.77 313.24,334.24 313.82,332.72 314.40,331.20 314.98,329.69 315.55,328.18 316.13,326.67 316.71,325.18 317.28,323.69 317.86,322.22 318.44,320.77 319.01,319.33 319.59,317.91 320.17,316.51 320.75,315.13 321.32,313.78 321.90,312.45 322.48,311.15 323.05,309.88 323.63,308.64 324.21,307.44 324.79,306.27 325.36,305.14 325.94,304.04 326.52,302.99 327.09,301.98 327.67,301.01 328.25,300.09 328.82,299.21 329.40,298.38 329.98,297.60 330.56,296.87 331.13,296.19 331.71,295.56 332.29,294.99 332.86,294.47 333.44,294.00 334.02,293.59 334.60,293.24 335.17,292.95 335.75,292.71 336.33,292.53 336.90,292.41 337.48,292.35 338.06,292.35 338.64,292.40 339.21,292.52 339.79,292.69 340.37,292.92 340.94,293.21 341.52,293.56 342.10,293.96 342.68,294.42 343.25,294.93 343.83,295.50 344.41,296.12 344.98,296.79 345.56,297.52 346.14,298.29 346.71,299.12 347.29,299.99 347.87,300.91 348.45,301.87 349.02,302.88 349.60,303.93 350.18,305.02 350.75,306.15 351.33,307.32 351.91,308.52 352.49,309.75 353.06,311.02 353.64,312.31 354.22,313.64 354.79,314.99 355.37,316.37 355.95,317.76 356.52,319.18 357.10,320.62 357.68,322.07 358.26,323.54 358.83,325.02 359.41,326.52 359.99,328.02 360.56,329.53 361.14,331.04 361.72,332.56 362.30,334.09 362.87,335.61 363.45,337.13 364.03,338.65 364.60,340.16 365.18,341.67 365.76,343.17 366.34,344.67 366.91,346.15 367.49,347.62 368.07,349.08 368.64,350.52 369.22,351.95 369.80,353.37 370.38,354.77 370.95,356.14 371.53,357.50 372.11,358.84 372.68,360.16 373.26,361.46 373.84,362.73 374.41,363.98 374.99,365.21 375.57,366.42 376.15,367.60 376.72,368.75 377.30,369.88 377.88,370.99 378.45,372.07 379.03,373.12 379.61,374.15 380.19,375.15 380.76,376.13 381.34,377.07 381.92,378.00 382.49,378.89 383.07,379.77 383.65,380.61 384.23,381.43 384.80,382.22 385.38,382.99 385.96,383.74 386.53,384.46 387.11,385.15 387.69,385.82 388.26,386.47 388.84,387.10 389.42,387.70 390.00,388.28 390.57,388.84 391.15,389.37 391.73,389.89 392.30,390.38 392.88,390.86 393.46,391.32 394.04,391.75 394.61,392.17 395.19,392.57 395.77,392.96 396.34,393.32 396.92,393.67 397.50,394.01 398.07,394.33 398.65,394.63 399.23,394.92 399.81,395.20 400.38,395.46 400.96,395.71 401.54,395.95 402.11,396.18 402.69,396.39 403.27,396.60 403.85,396.79 404.42,396.97 405.00,397.15" fill="none" stroke="#d0d0d0" stroke-width="2.5" stroke-dasharray="2.4 2.2"/>
<text x="260.50" y="404.20" font-size="12.6" text-anchor="end" >0</text>
<text x="260.50" y="331.10" font-size="12.6" text-anchor="end" >2</text>
<text x="260.50" y="258.00" font-size="12.6" text-anchor="end" >4</text>
<text x="278.50" y="415.80" font-size="12" text-anchor="middle" >0.25</text>
<text x="314.50" y="415.80" font-size="12" text-anchor="middle" >1</text>
<text x="350.50" y="415.80" font-size="12" text-anchor="middle" >4</text>
<text x="386.50" y="415.80" font-size="12" text-anchor="middle" >16</text>
<text x="217.60" y="245.60" font-size="21.5" text-anchor="start" >E</text>
<text x="328.80" y="245.80" font-size="16" text-anchor="middle" font-style="italic" >PV virus</text>
<text transform="translate(234.00,316.50) rotate(-90)" font-size="12.1" text-anchor="middle">Number of units</text>
<text x="419.00" y="264.00" font-size="13.3" text-anchor="end" font-style="italic" >n = 20 Pyr</text>
<text x="281.30" y="433.20" font-size="12.2">SNR<tspan font-size="11" dy="0.8">spont,</tspan></text>
<text x="360.55" y="426.70" font-size="11.8" text-anchor="middle" >LED on</text>
<text x="360.55" y="441.20" font-size="11.8" text-anchor="middle" >LED off</text>
<line x1="335.60" y1="431.10" x2="385.50" y2="431.10" stroke="#000" stroke-width="0.9"/>
<g stroke="#dcdcdc" stroke-width="0.8" stroke-dasharray="1 1.3" fill="none">
<line x1="53.40" y1="478.00" x2="53.40" y2="623.40" />
<line x1="88.85" y1="478.00" x2="88.85" y2="623.40" />
<line x1="124.30" y1="478.00" x2="124.30" y2="623.40" />
<line x1="159.75" y1="478.00" x2="159.75" y2="623.40" />
<line x1="195.20" y1="478.00" x2="195.20" y2="623.40" />
<line x1="48.60" y1="619.30" x2="195.20" y2="619.30" />
<line x1="48.60" y1="572.20" x2="195.20" y2="572.20" />
<line x1="48.60" y1="525.10" x2="195.20" y2="525.10" />
<line x1="48.60" y1="478.00" x2="195.20" y2="478.00" />
</g>
<line x1="53.40" y1="619.30" x2="159.75" y2="478.00" stroke="#cccccc" stroke-width="2.7" stroke-dasharray="3 1.2"/>
<circle cx="111.9" cy="487.0" r="4.3" fill="#0810c8" stroke="#1828f4" stroke-width="0.9"/>
<circle cx="124.5" cy="497.9" r="4.3" fill="#0810c8" stroke="#1828f4" stroke-width="0.9"/>
<circle cx="99.6" cy="506.1" r="4.3" fill="#0810c8" stroke="#1828f4" stroke-width="0.9"/>
<circle cx="107.6" cy="503.3" r="4.3" fill="#0810c8" stroke="#1828f4" stroke-width="0.9"/>
<circle cx="129.8" cy="507.1" r="4.3" fill="#0810c8" stroke="#1828f4" stroke-width="0.9"/>
<circle cx="134.9" cy="509.1" r="4.3" fill="#0810c8" stroke="#1828f4" stroke-width="0.9"/>
<circle cx="80.0" cy="523.2" r="4.3" fill="#0810c8" stroke="#1828f4" stroke-width="0.9"/>
<circle cx="90.4" cy="519.6" r="4.3" fill="#0810c8" stroke="#1828f4" stroke-width="0.9"/>
<circle cx="97.6" cy="523.9" r="4.3" fill="#0810c8" stroke="#1828f4" stroke-width="0.9"/>
<circle cx="104.7" cy="520.1" r="4.3" fill="#0810c8" stroke="#1828f4" stroke-width="0.9"/>
<circle cx="106.3" cy="521.9" r="4.3" fill="#0810c8" stroke="#1828f4" stroke-width="0.9"/>
<circle cx="101.7" cy="522.9" r="4.3" fill="#0810c8" stroke="#1828f4" stroke-width="0.9"/>
<circle cx="123.3" cy="530.4" r="4.3" fill="#0810c8" stroke="#1828f4" stroke-width="0.9"/>
<circle cx="80.7" cy="533.1" r="4.3" fill="#0810c8" stroke="#1828f4" stroke-width="0.9"/>
<circle cx="87.9" cy="538.6" r="4.3" fill="#0810c8" stroke="#1828f4" stroke-width="0.9"/>
<circle cx="97.6" cy="536.7" r="4.3" fill="#0810c8" stroke="#1828f4" stroke-width="0.9"/>
<circle cx="104.7" cy="537.7" r="4.3" fill="#0810c8" stroke="#1828f4" stroke-width="0.9"/>
<circle cx="111.4" cy="533.1" r="4.3" fill="#0810c8" stroke="#1828f4" stroke-width="0.9"/>
<circle cx="131.3" cy="541.3" r="4.3" fill="#0810c8" stroke="#1828f4" stroke-width="0.9"/>
<circle cx="84.3" cy="546.4" r="4.3" fill="#0810c8" stroke="#1828f4" stroke-width="0.9"/>
<circle cx="120.1" cy="546.2" r="4.3" fill="#0810c8" stroke="#1828f4" stroke-width="0.9"/>
<circle cx="93.5" cy="549.5" r="4.3" fill="#0810c8" stroke="#1828f4" stroke-width="0.9"/>
<circle cx="105.8" cy="548.5" r="4.3" fill="#0810c8" stroke="#1828f4" stroke-width="0.9"/>
<circle cx="93.3" cy="550.4" r="4.3" fill="#0810c8" stroke="#1828f4" stroke-width="0.9"/>
<circle cx="97.9" cy="552.0" r="4.3" fill="#0810c8" stroke="#1828f4" stroke-width="0.9"/>
<circle cx="100.0" cy="557.1" r="4.3" fill="#0810c8" stroke="#1828f4" stroke-width="0.9"/>
<circle cx="95.9" cy="559.6" r="4.3" fill="#0810c8" stroke="#1828f4" stroke-width="0.9"/>
<circle cx="90.8" cy="561.7" r="4.3" fill="#0810c8" stroke="#1828f4" stroke-width="0.9"/>
<circle cx="95.4" cy="563.7" r="4.3" fill="#0810c8" stroke="#1828f4" stroke-width="0.9"/>
<circle cx="83.6" cy="557.6" r="4.3" fill="#0810c8" stroke="#1828f4" stroke-width="0.9"/>
<circle cx="85.7" cy="561.7" r="4.3" fill="#0810c8" stroke="#1828f4" stroke-width="0.9"/>
<circle cx="87.7" cy="567.8" r="4.3" fill="#0810c8" stroke="#1828f4" stroke-width="0.9"/>
<circle cx="84.6" cy="570.9" r="4.3" fill="#0810c8" stroke="#1828f4" stroke-width="0.9"/>
<circle cx="78.5" cy="571.4" r="4.3" fill="#0810c8" stroke="#1828f4" stroke-width="0.9"/>
<circle cx="80.5" cy="569.9" r="4.3" fill="#0810c8" stroke="#1828f4" stroke-width="0.9"/>
<circle cx="72.4" cy="578.5" r="4.3" fill="#0810c8" stroke="#1828f4" stroke-width="0.9"/>
<circle cx="80.0" cy="579.0" r="4.3" fill="#0810c8" stroke="#1828f4" stroke-width="0.9"/>
<circle cx="110.2" cy="570.4" r="4.3" fill="#0810c8" stroke="#1828f4" stroke-width="0.9"/>
<circle cx="75.4" cy="594.9" r="4.3" fill="#0810c8" stroke="#1828f4" stroke-width="0.9"/>
<circle cx="61.4" cy="609.6" r="4.3" fill="#0810c8" stroke="#1828f4" stroke-width="0.9"/>
<g stroke="#000" stroke-width="1.7" fill="none">
<line x1="47.60" y1="477.70" x2="47.60" y2="625.25" />
<line x1="46.75" y1="624.40" x2="195.80" y2="624.40" />
</g>
<g stroke="#000" stroke-width="1.2" fill="none">
<line x1="44.40" y1="619.30" x2="47.60" y2="619.30" />
<line x1="45.90" y1="605.12" x2="47.60" y2="605.12" stroke-width="0.9" />
<line x1="45.90" y1="596.83" x2="47.60" y2="596.83" stroke-width="0.9" />
<line x1="45.90" y1="590.94" x2="47.60" y2="590.94" stroke-width="0.9" />
<line x1="45.90" y1="586.38" x2="47.60" y2="586.38" stroke-width="0.9" />
<line x1="45.90" y1="582.65" x2="47.60" y2="582.65" stroke-width="0.9" />
<line x1="45.90" y1="579.50" x2="47.60" y2="579.50" stroke-width="0.9" />
<line x1="45.90" y1="576.76" x2="47.60" y2="576.76" stroke-width="0.9" />
<line x1="45.90" y1="574.36" x2="47.60" y2="574.36" stroke-width="0.9" />
<line x1="44.40" y1="572.20" x2="47.60" y2="572.20" />
<line x1="45.90" y1="558.02" x2="47.60" y2="558.02" stroke-width="0.9" />
<line x1="45.90" y1="549.73" x2="47.60" y2="549.73" stroke-width="0.9" />
<line x1="45.90" y1="543.84" x2="47.60" y2="543.84" stroke-width="0.9" />
<line x1="45.90" y1="539.28" x2="47.60" y2="539.28" stroke-width="0.9" />
<line x1="45.90" y1="535.55" x2="47.60" y2="535.55" stroke-width="0.9" />
<line x1="45.90" y1="532.40" x2="47.60" y2="532.40" stroke-width="0.9" />
<line x1="45.90" y1="529.66" x2="47.60" y2="529.66" stroke-width="0.9" />
<line x1="45.90" y1="527.26" x2="47.60" y2="527.26" stroke-width="0.9" />
<line x1="44.40" y1="525.10" x2="47.60" y2="525.10" />
<line x1="45.90" y1="510.92" x2="47.60" y2="510.92" stroke-width="0.9" />
<line x1="45.90" y1="502.63" x2="47.60" y2="502.63" stroke-width="0.9" />
<line x1="45.90" y1="496.74" x2="47.60" y2="496.74" stroke-width="0.9" />
<line x1="45.90" y1="492.18" x2="47.60" y2="492.18" stroke-width="0.9" />
<line x1="45.90" y1="488.45" x2="47.60" y2="488.45" stroke-width="0.9" />
<line x1="45.90" y1="485.30" x2="47.60" y2="485.30" stroke-width="0.9" />
<line x1="45.90" y1="482.56" x2="47.60" y2="482.56" stroke-width="0.9" />
<line x1="45.90" y1="480.16" x2="47.60" y2="480.16" stroke-width="0.9" />
<line x1="44.40" y1="478.00" x2="47.60" y2="478.00" />
<line x1="53.40" y1="624.40" x2="53.40" y2="629.00" />
<line x1="64.07" y1="624.40" x2="64.07" y2="627.00" stroke-width="0.9" />
<line x1="70.31" y1="624.40" x2="70.31" y2="627.00" stroke-width="0.9" />
<line x1="74.74" y1="624.40" x2="74.74" y2="627.00" stroke-width="0.9" />
<line x1="78.18" y1="624.40" x2="78.18" y2="627.00" stroke-width="0.9" />
<line x1="80.99" y1="624.40" x2="80.99" y2="627.00" stroke-width="0.9" />
<line x1="83.36" y1="624.40" x2="83.36" y2="627.00" stroke-width="0.9" />
<line x1="85.41" y1="624.40" x2="85.41" y2="627.00" stroke-width="0.9" />
<line x1="87.23" y1="624.40" x2="87.23" y2="627.00" stroke-width="0.9" />
<line x1="88.85" y1="624.40" x2="88.85" y2="629.00" />
<line x1="99.52" y1="624.40" x2="99.52" y2="627.00" stroke-width="0.9" />
<line x1="105.76" y1="624.40" x2="105.76" y2="627.00" stroke-width="0.9" />
<line x1="110.19" y1="624.40" x2="110.19" y2="627.00" stroke-width="0.9" />
<line x1="113.63" y1="624.40" x2="113.63" y2="627.00" stroke-width="0.9" />
<line x1="116.44" y1="624.40" x2="116.44" y2="627.00" stroke-width="0.9" />
<line x1="118.81" y1="624.40" x2="118.81" y2="627.00" stroke-width="0.9" />
<line x1="120.86" y1="624.40" x2="120.86" y2="627.00" stroke-width="0.9" />
<line x1="122.68" y1="624.40" x2="122.68" y2="627.00" stroke-width="0.9" />
<line x1="124.30" y1="624.40" x2="124.30" y2="629.00" />
<line x1="134.97" y1="624.40" x2="134.97" y2="627.00" stroke-width="0.9" />
<line x1="141.21" y1="624.40" x2="141.21" y2="627.00" stroke-width="0.9" />
<line x1="145.64" y1="624.40" x2="145.64" y2="627.00" stroke-width="0.9" />
<line x1="149.08" y1="624.40" x2="149.08" y2="627.00" stroke-width="0.9" />
<line x1="151.89" y1="624.40" x2="151.89" y2="627.00" stroke-width="0.9" />
<line x1="154.26" y1="624.40" x2="154.26" y2="627.00" stroke-width="0.9" />
<line x1="156.31" y1="624.40" x2="156.31" y2="627.00" stroke-width="0.9" />
<line x1="158.13" y1="624.40" x2="158.13" y2="627.00" stroke-width="0.9" />
<line x1="159.75" y1="624.40" x2="159.75" y2="629.00" />
<line x1="170.42" y1="624.40" x2="170.42" y2="627.00" stroke-width="0.9" />
<line x1="176.66" y1="624.40" x2="176.66" y2="627.00" stroke-width="0.9" />
<line x1="181.09" y1="624.40" x2="181.09" y2="627.00" stroke-width="0.9" />
<line x1="184.53" y1="624.40" x2="184.53" y2="627.00" stroke-width="0.9" />
<line x1="187.34" y1="624.40" x2="187.34" y2="627.00" stroke-width="0.9" />
<line x1="189.71" y1="624.40" x2="189.71" y2="627.00" stroke-width="0.9" />
<line x1="191.76" y1="624.40" x2="191.76" y2="627.00" stroke-width="0.9" />
<line x1="193.58" y1="624.40" x2="193.58" y2="627.00" stroke-width="0.9" />
<line x1="195.20" y1="624.40" x2="195.20" y2="629.00" />
</g>
<text x="42.70" y="622.70" font-size="11.8" text-anchor="end" >10e0</text>
<text x="42.70" y="575.60" font-size="11.8" text-anchor="end" >10e1</text>
<text x="42.70" y="528.50" font-size="11.8" text-anchor="end" >10e2</text>
<text x="42.70" y="481.40" font-size="11.8" text-anchor="end" >10e3</text>
<text x="53.40" y="640.60" font-size="11.8" text-anchor="middle" >10e0</text>
<text x="88.85" y="640.60" font-size="11.8" text-anchor="middle" >10e1</text>
<text x="124.30" y="640.60" font-size="11.8" text-anchor="middle" >10e2</text>
<text x="159.75" y="640.60" font-size="11.8" text-anchor="middle" >10e3</text>
<text x="195.20" y="640.60" font-size="11.8" text-anchor="middle" >10e4</text>
<text x="1.00" y="468.80" font-size="21.5" text-anchor="start" >F</text>
<text x="49.40" y="658.00" font-size="13.2">SNR<tspan font-size="10.6" dy="2.1">backgr</tspan><tspan dy="-2.1">, LED off</tspan></text>
<text transform="translate(13.70,600.20) rotate(-90)" font-size="13.2">SNR<tspan font-size="10.6" dy="2.0">backgr</tspan><tspan dy="-2.0">, LED on</tspan></text>
<text x="192.50" y="620.50" font-size="13.3" text-anchor="end" font-style="italic" >n = 43 Pyr</text>
<g stroke="#dcdcdc" stroke-width="0.8" stroke-dasharray="1 1.3" fill="none">
<line x1="272.00" y1="478.00" x2="272.00" y2="624.20" />
<line x1="318.40" y1="478.00" x2="318.40" y2="624.20" />
<line x1="364.80" y1="478.00" x2="364.80" y2="624.20" />
<line x1="411.20" y1="478.00" x2="411.20" y2="624.20" />
<line x1="266.50" y1="620.50" x2="411.20" y2="620.50" />
<line x1="266.50" y1="573.00" x2="411.20" y2="573.00" />
<line x1="266.50" y1="525.50" x2="411.20" y2="525.50" />
<line x1="266.50" y1="478.00" x2="411.20" y2="478.00" />
</g>
<line x1="266.50" y1="624.20" x2="411.20" y2="478.00" stroke="#cbcbcb" stroke-width="2.0" stroke-dasharray="2.4 0.9"/>
<circle cx="391.0" cy="474.0" r="4.05" fill="none" stroke="#1c34f2" stroke-width="1.55"/>
<circle cx="377.6" cy="496.1" r="4.05" fill="none" stroke="#1c34f2" stroke-width="1.55"/>
<circle cx="381.5" cy="498.5" r="4.05" fill="none" stroke="#1c34f2" stroke-width="1.55"/>
<circle cx="368.2" cy="518.5" r="4.05" fill="none" stroke="#1c34f2" stroke-width="1.55"/>
<circle cx="298.1" cy="546.9" r="4.05" fill="none" stroke="#1c34f2" stroke-width="1.55"/>
<circle cx="308.6" cy="545.1" r="4.05" fill="none" stroke="#1c34f2" stroke-width="1.55"/>
<circle cx="330.3" cy="541.6" r="4.05" fill="none" stroke="#1c34f2" stroke-width="1.55"/>
<circle cx="353.5" cy="550.4" r="4.05" fill="none" stroke="#1c34f2" stroke-width="1.55"/>
<circle cx="320.9" cy="556.3" r="4.05" fill="none" stroke="#1c34f2" stroke-width="1.55"/>
<circle cx="314.9" cy="566.1" r="4.05" fill="none" stroke="#1c34f2" stroke-width="1.55"/>
<circle cx="311.4" cy="569.6" r="4.05" fill="none" stroke="#1c34f2" stroke-width="1.55"/>
<circle cx="309.3" cy="573.1" r="4.05" fill="none" stroke="#1c34f2" stroke-width="1.55"/>
<circle cx="321.9" cy="571.4" r="4.05" fill="none" stroke="#1c34f2" stroke-width="1.55"/>
<g stroke="#000" stroke-width="1.7" fill="none">
<line x1="265.50" y1="477.70" x2="265.50" y2="626.05" />
<line x1="264.65" y1="625.20" x2="411.80" y2="625.20" />
</g>
<g stroke="#000" stroke-width="1.2" fill="none">
<line x1="262.30" y1="620.50" x2="265.50" y2="620.50" />
<line x1="263.80" y1="606.20" x2="265.50" y2="606.20" stroke-width="0.9" />
<line x1="263.80" y1="597.84" x2="265.50" y2="597.84" stroke-width="0.9" />
<line x1="263.80" y1="591.90" x2="265.50" y2="591.90" stroke-width="0.9" />
<line x1="263.80" y1="587.30" x2="265.50" y2="587.30" stroke-width="0.9" />
<line x1="263.80" y1="583.54" x2="265.50" y2="583.54" stroke-width="0.9" />
<line x1="263.80" y1="580.36" x2="265.50" y2="580.36" stroke-width="0.9" />
<line x1="263.80" y1="577.60" x2="265.50" y2="577.60" stroke-width="0.9" />
<line x1="263.80" y1="575.17" x2="265.50" y2="575.17" stroke-width="0.9" />
<line x1="262.30" y1="573.00" x2="265.50" y2="573.00" />
<line x1="263.80" y1="558.70" x2="265.50" y2="558.70" stroke-width="0.9" />
<line x1="263.80" y1="550.34" x2="265.50" y2="550.34" stroke-width="0.9" />
<line x1="263.80" y1="544.40" x2="265.50" y2="544.40" stroke-width="0.9" />
<line x1="263.80" y1="539.80" x2="265.50" y2="539.80" stroke-width="0.9" />
<line x1="263.80" y1="536.04" x2="265.50" y2="536.04" stroke-width="0.9" />
<line x1="263.80" y1="532.86" x2="265.50" y2="532.86" stroke-width="0.9" />
<line x1="263.80" y1="530.10" x2="265.50" y2="530.10" stroke-width="0.9" />
<line x1="263.80" y1="527.67" x2="265.50" y2="527.67" stroke-width="0.9" />
<line x1="262.30" y1="525.50" x2="265.50" y2="525.50" />
<line x1="263.80" y1="511.20" x2="265.50" y2="511.20" stroke-width="0.9" />
<line x1="263.80" y1="502.84" x2="265.50" y2="502.84" stroke-width="0.9" />
<line x1="263.80" y1="496.90" x2="265.50" y2="496.90" stroke-width="0.9" />
<line x1="263.80" y1="492.30" x2="265.50" y2="492.30" stroke-width="0.9" />
<line x1="263.80" y1="488.54" x2="265.50" y2="488.54" stroke-width="0.9" />
<line x1="263.80" y1="485.36" x2="265.50" y2="485.36" stroke-width="0.9" />
<line x1="263.80" y1="482.60" x2="265.50" y2="482.60" stroke-width="0.9" />
<line x1="263.80" y1="480.17" x2="265.50" y2="480.17" stroke-width="0.9" />
<line x1="262.30" y1="478.00" x2="265.50" y2="478.00" />
<line x1="272.00" y1="625.20" x2="272.00" y2="629.80" />
<line x1="285.97" y1="625.20" x2="285.97" y2="627.80" stroke-width="0.9" />
<line x1="294.14" y1="625.20" x2="294.14" y2="627.80" stroke-width="0.9" />
<line x1="299.94" y1="625.20" x2="299.94" y2="627.80" stroke-width="0.9" />
<line x1="304.43" y1="625.20" x2="304.43" y2="627.80" stroke-width="0.9" />
<line x1="308.11" y1="625.20" x2="308.11" y2="627.80" stroke-width="0.9" />
<line x1="311.21" y1="625.20" x2="311.21" y2="627.80" stroke-width="0.9" />
<line x1="313.90" y1="625.20" x2="313.90" y2="627.80" stroke-width="0.9" />
<line x1="316.28" y1="625.20" x2="316.28" y2="627.80" stroke-width="0.9" />
<line x1="318.40" y1="625.20" x2="318.40" y2="629.80" />
<line x1="332.37" y1="625.20" x2="332.37" y2="627.80" stroke-width="0.9" />
<line x1="340.54" y1="625.20" x2="340.54" y2="627.80" stroke-width="0.9" />
<line x1="346.34" y1="625.20" x2="346.34" y2="627.80" stroke-width="0.9" />
<line x1="350.83" y1="625.20" x2="350.83" y2="627.80" stroke-width="0.9" />
<line x1="354.51" y1="625.20" x2="354.51" y2="627.80" stroke-width="0.9" />
<line x1="357.61" y1="625.20" x2="357.61" y2="627.80" stroke-width="0.9" />
<line x1="360.30" y1="625.20" x2="360.30" y2="627.80" stroke-width="0.9" />
<line x1="362.68" y1="625.20" x2="362.68" y2="627.80" stroke-width="0.9" />
<line x1="364.80" y1="625.20" x2="364.80" y2="629.80" />
<line x1="378.77" y1="625.20" x2="378.77" y2="627.80" stroke-width="0.9" />
<line x1="386.94" y1="625.20" x2="386.94" y2="627.80" stroke-width="0.9" />
<line x1="392.74" y1="625.20" x2="392.74" y2="627.80" stroke-width="0.9" />
<line x1="397.23" y1="625.20" x2="397.23" y2="627.80" stroke-width="0.9" />
<line x1="400.91" y1="625.20" x2="400.91" y2="627.80" stroke-width="0.9" />
<line x1="404.01" y1="625.20" x2="404.01" y2="627.80" stroke-width="0.9" />
<line x1="406.70" y1="625.20" x2="406.70" y2="627.80" stroke-width="0.9" />
<line x1="409.08" y1="625.20" x2="409.08" y2="627.80" stroke-width="0.9" />
<line x1="411.20" y1="625.20" x2="411.20" y2="629.80" />
</g>
<text x="260.60" y="623.90" font-size="11.8" text-anchor="end" >10e0</text>
<text x="260.60" y="576.40" font-size="11.8" text-anchor="end" >10e1</text>
<text x="260.60" y="528.90" font-size="11.8" text-anchor="end" >10e2</text>
<text x="260.60" y="481.40" font-size="11.8" text-anchor="end" >10e3</text>
<text x="272.00" y="641.40" font-size="11.8" text-anchor="middle" >10e0</text>
<text x="318.40" y="641.40" font-size="11.8" text-anchor="middle" >10e1</text>
<text x="364.80" y="641.40" font-size="11.8" text-anchor="middle" >10e2</text>
<text x="411.20" y="641.40" font-size="11.8" text-anchor="middle" >10e3</text>
<text x="219.20" y="468.90" font-size="21.5" text-anchor="start" >G</text>
<text x="329.00" y="470.80" font-size="16" text-anchor="middle" font-style="italic" >CaMKII virus</text>
<text x="277.00" y="658.00" font-size="13.2">SNR<tspan font-size="10.3" dy="2.0">backgr</tspan><tspan dy="-2.0">, LED off</tspan></text>
<text transform="translate(230.20,599.70) rotate(-90)" font-size="13.2">SNR<tspan font-size="10.4" dy="2.0">backgr</tspan><tspan dy="-2.0">, LED on</tspan></text>
<text x="409.20" y="620.40" font-size="13.3" text-anchor="end" font-style="italic" >n = 13 Inter</text>
<g fill="#7f7f7f" stroke="#000" stroke-width="1.1">
<rect x="490.50" y="598.94" width="8.15" height="25.56"/>
<rect x="498.65" y="611.97" width="8.15" height="12.53"/>
<rect x="514.95" y="585.91" width="8.15" height="38.59"/>
<rect x="523.10" y="520.76" width="8.15" height="103.74"/>
<rect x="531.25" y="494.70" width="8.15" height="129.80"/>
<rect x="539.40" y="572.88" width="8.15" height="51.62"/>
<rect x="547.55" y="572.88" width="8.15" height="51.62"/>
<rect x="555.70" y="572.88" width="8.15" height="51.62"/>
<rect x="563.85" y="611.97" width="8.15" height="12.53"/>
<rect x="572.00" y="598.94" width="8.15" height="25.56"/>
<rect x="580.15" y="585.91" width="8.15" height="38.59"/>
<rect x="588.30" y="611.97" width="8.15" height="12.53"/>
</g>
<g stroke="#000" stroke-width="1.3" fill="none">
<line x1="469.50" y1="478.70" x2="469.50" y2="625.30" />
<line x1="466.20" y1="624.50" x2="469.50" y2="624.50" />
<line x1="466.20" y1="559.35" x2="469.50" y2="559.35" />
<line x1="466.20" y1="494.20" x2="469.50" y2="494.20" />
<line x1="490.50" y1="624.50" x2="490.50" y2="628.90" />
<line x1="523.10" y1="624.50" x2="523.10" y2="628.90" />
<line x1="555.70" y1="624.50" x2="555.70" y2="628.90" />
<line x1="588.30" y1="624.50" x2="588.30" y2="628.90" />
</g>
<polyline points="469.50,624.49 470.10,624.49 470.70,624.49 471.29,624.49 471.89,624.49 472.49,624.48 473.09,624.48 473.69,624.48 474.28,624.47 474.88,624.47 475.48,624.46 476.08,624.45 476.68,624.44 477.27,624.43 477.87,624.42 478.47,624.41 479.07,624.39 479.66,624.37 480.26,624.35 480.86,624.33 481.46,624.30 482.06,624.27 482.65,624.23 483.25,624.19 483.85,624.14 484.45,624.09 485.05,624.02 485.64,623.95 486.24,623.87 486.84,623.78 487.44,623.68 488.04,623.57 488.63,623.44 489.23,623.30 489.83,623.14 490.43,622.96 491.02,622.76 491.62,622.54 492.22,622.29 492.82,622.02 493.42,621.72 494.01,621.38 494.61,621.02 495.21,620.61 495.81,620.17 496.41,619.69 497.00,619.16 497.60,618.58 498.20,617.96 498.80,617.28 499.40,616.55 499.99,615.75 500.59,614.89 501.19,613.97 501.79,612.98 502.39,611.92 502.98,610.79 503.58,609.58 504.18,608.29 504.78,606.92 505.38,605.47 505.97,603.94 506.57,602.32 507.17,600.62 507.77,598.83 508.36,596.96 508.96,595.01 509.56,592.97 510.16,590.85 510.76,588.65 511.35,586.37 511.95,584.03 512.55,581.61 513.15,579.13 513.75,576.60 514.34,574.01 514.94,571.37 515.54,568.70 516.14,565.99 516.74,563.26 517.33,560.52 517.93,557.78 518.53,555.04 519.13,552.32 519.73,549.62 520.32,546.96 520.92,544.34 521.52,541.79 522.12,539.30 522.71,536.90 523.31,534.59 523.91,532.38 524.51,530.28 525.11,528.31 525.70,526.46 526.30,524.77 526.90,523.22 527.50,521.82 528.10,520.60 528.69,519.54 529.29,518.67 529.89,517.97 530.49,517.46 531.09,517.14 531.68,517.01 532.28,517.06 532.88,517.31 533.48,517.75 534.08,518.37 534.67,519.18 535.27,520.17 535.87,521.33 536.47,522.65 537.06,524.14 537.66,525.78 538.26,527.57 538.86,529.49 539.46,531.55 540.05,533.71 540.65,535.99 541.25,538.36 541.85,540.81 542.45,543.34 543.04,545.93 543.64,548.57 544.24,551.26 544.84,553.97 545.44,556.71 546.03,559.45 546.63,562.20 547.23,564.93 547.83,567.64 548.42,570.33 549.02,572.98 549.62,575.59 550.22,578.15 550.82,580.65 551.41,583.09 552.01,585.47 552.61,587.77 553.21,590.00 553.81,592.15 554.40,594.22 555.00,596.21 555.60,598.11 556.20,599.93 556.80,601.67 557.39,603.32 557.99,604.88 558.59,606.36 559.19,607.76 559.79,609.08 560.38,610.32 560.98,611.49 561.58,612.58 562.18,613.59 562.77,614.54 563.37,615.42 563.97,616.24 564.57,617.00 565.17,617.70 565.76,618.35 566.36,618.94 566.96,619.49 567.56,619.99 568.16,620.45 568.75,620.86 569.35,621.24 569.95,621.59 570.55,621.90 571.15,622.19 571.74,622.44 572.34,622.67 572.94,622.88 573.54,623.07 574.14,623.24 574.73,623.39 575.33,623.52 575.93,623.64 576.53,623.75 577.12,623.84 577.72,623.92 578.32,624.00 578.92,624.06 579.52,624.12 580.11,624.17 580.71,624.21 581.31,624.25 581.91,624.29 582.51,624.32 583.10,624.34 583.70,624.36 584.30,624.38 584.90,624.40 585.50,624.42 586.09,624.43 586.69,624.44 587.29,624.45 587.89,624.46 588.49,624.46 589.08,624.47 589.68,624.47 590.28,624.48 590.88,624.48 591.48,624.48 592.07,624.49 592.67,624.49 593.27,624.49 593.87,624.49 594.46,624.49 595.06,624.49 595.66,624.50 596.26,624.50 596.86,624.50 597.45,624.50 598.05,624.50 598.65,624.50 599.25,624.50 599.85,624.50 600.44,624.50 601.04,624.50 601.64,624.50 602.24,624.50 602.84,624.50 603.43,624.50 604.03,624.50 604.63,624.50 605.23,624.50 605.83,624.50 606.42,624.50 607.02,624.50 607.62,624.50 608.22,624.50 608.81,624.50 609.41,624.50 610.01,624.50 610.61,624.50 611.21,624.50 611.80,624.50 612.40,624.50 613.00,624.50" fill="none" stroke="#d0d0d0" stroke-width="2.5" stroke-dasharray="4 3.6"/>
<line x1="469.50" y1="624.50" x2="613.00" y2="624.50" stroke-width="1.9" stroke="#d2d2d2"/>
<line x1="468.85" y1="624.50" x2="613.00" y2="624.50" stroke-width="2.0" stroke="#000" stroke-dasharray="4 3.9" stroke-dashoffset="2.15"/>
<text x="464.30" y="628.90" font-size="12.6" text-anchor="end" >0</text>
<text x="464.30" y="563.75" font-size="12.6" text-anchor="end" >5</text>
<text x="464.30" y="498.60" font-size="12.6" text-anchor="end" >10</text>
<text x="490.50" y="640.50" font-size="12" text-anchor="middle" >0.25</text>
<text x="523.10" y="640.50" font-size="12" text-anchor="middle" >1</text>
<text x="555.70" y="640.50" font-size="12" text-anchor="middle" >4</text>
<text x="588.30" y="640.50" font-size="12" text-anchor="middle" >16</text>
<text x="427.30" y="469.10" font-size="21.5" text-anchor="start" >H</text>
<text x="537.60" y="471.00" font-size="16" text-anchor="middle" font-style="italic" >CaMKII virus</text>
<text transform="translate(443.00,544.90) rotate(-90)" font-size="12.1" text-anchor="middle">Number of units</text>
<text x="538.00" y="490.30" font-size="13.3" text-anchor="end" font-style="italic" >n = 43 Pyr</text>
<text x="483.30" y="658.30" font-size="12.2">SNR<tspan font-size="11" dy="0.8">backgr,</tspan></text>
<text x="566.65" y="651.30" font-size="11.8" text-anchor="middle" >LED on</text>
<text x="566.65" y="666.10" font-size="11.8" text-anchor="middle" >LED off</text>
<line x1="543.20" y1="655.40" x2="590.10" y2="655.40" stroke="#000" stroke-width="0.9"/>
<circle cx="145.2" cy="733.8" r="4.3" fill="#fb1216" stroke="#fb1818" stroke-width="0.8"/>
<circle cx="137.9" cy="740.2" r="4.3" fill="#fb1216" stroke="#fb1818" stroke-width="0.8"/>
<circle cx="123.7" cy="738.2" r="4.3" fill="#fb1216" stroke="#fb1818" stroke-width="0.8"/>
<circle cx="121.3" cy="752.6" r="4.3" fill="#fb1216" stroke="#fb1818" stroke-width="0.8"/>
<circle cx="125.5" cy="752.2" r="4.3" fill="#fb1216" stroke="#fb1818" stroke-width="0.8"/>
<circle cx="130.0" cy="751.6" r="4.3" fill="#fb1216" stroke="#fb1818" stroke-width="0.8"/>
<circle cx="135.9" cy="751.4" r="4.3" fill="#fb1216" stroke="#fb1818" stroke-width="0.8"/>
<circle cx="131.0" cy="755.8" r="4.3" fill="#fb1216" stroke="#fb1818" stroke-width="0.8"/>
<circle cx="115.4" cy="763.1" r="4.3" fill="#fb1216" stroke="#fb1818" stroke-width="0.8"/>
<circle cx="122.7" cy="765.6" r="4.3" fill="#fb1216" stroke="#fb1818" stroke-width="0.8"/>
<circle cx="109.5" cy="772.0" r="4.3" fill="#fb1216" stroke="#fb1818" stroke-width="0.8"/>
<circle cx="97.8" cy="786.1" r="4.3" fill="#fb1216" stroke="#fb1818" stroke-width="0.8"/>
<circle cx="99.7" cy="789.6" r="4.3" fill="#fb1216" stroke="#fb1818" stroke-width="0.8"/>
<circle cx="107.6" cy="786.6" r="4.3" fill="#fb1216" stroke="#fb1818" stroke-width="0.8"/>
<circle cx="108.5" cy="791.2" r="4.3" fill="#fb1216" stroke="#fb1818" stroke-width="0.8"/>
<circle cx="112.5" cy="781.7" r="4.3" fill="#fb1216" stroke="#fb1818" stroke-width="0.8"/>
<circle cx="120.3" cy="778.3" r="4.3" fill="#fb1216" stroke="#fb1818" stroke-width="0.8"/>
<circle cx="125.2" cy="785.2" r="4.3" fill="#fb1216" stroke="#fb1818" stroke-width="0.8"/>
<circle cx="122.7" cy="772.4" r="3.9" fill="none" stroke="#fb1418" stroke-width="1.4"/>
<circle cx="136.9" cy="775.4" r="3.9" fill="none" stroke="#fb1418" stroke-width="1.4"/>
<circle cx="115.9" cy="792.5" r="3.9" fill="none" stroke="#fb1418" stroke-width="1.4"/>
<circle cx="103.2" cy="799.8" r="3.9" fill="none" stroke="#fb1418" stroke-width="1.4"/>
<circle cx="94.4" cy="806.2" r="3.9" fill="none" stroke="#fb1418" stroke-width="1.4"/>
<g stroke="#dcdcdc" stroke-width="0.8" stroke-dasharray="1 1.3" fill="none">
<line x1="52.30" y1="705.30" x2="52.30" y2="849.60" />
<line x1="99.30" y1="705.30" x2="99.30" y2="849.60" />
<line x1="146.30" y1="705.30" x2="146.30" y2="849.60" />
<line x1="193.30" y1="705.30" x2="193.30" y2="849.60" />
<line x1="47.20" y1="846.00" x2="193.30" y2="846.00" />
<line x1="47.20" y1="799.10" x2="193.30" y2="799.10" />
<line x1="47.20" y1="752.20" x2="193.30" y2="752.20" />
<line x1="47.20" y1="705.30" x2="193.30" y2="705.30" />
</g>
<line x1="52.80" y1="845.50" x2="193.30" y2="705.30" stroke="#c9c9c9" stroke-width="2.8" stroke-dasharray="2.8 2.5"/>
<g stroke="#000" stroke-width="1.7" fill="none">
<line x1="46.20" y1="705.00" x2="46.20" y2="851.45" />
<line x1="45.35" y1="850.60" x2="193.90" y2="850.60" />
</g>
<g stroke="#000" stroke-width="1.2" fill="none">
<line x1="43.00" y1="846.00" x2="46.20" y2="846.00" />
<line x1="44.50" y1="831.88" x2="46.20" y2="831.88" stroke-width="0.9" />
<line x1="44.50" y1="823.62" x2="46.20" y2="823.62" stroke-width="0.9" />
<line x1="44.50" y1="817.76" x2="46.20" y2="817.76" stroke-width="0.9" />
<line x1="44.50" y1="813.22" x2="46.20" y2="813.22" stroke-width="0.9" />
<line x1="44.50" y1="809.50" x2="46.20" y2="809.50" stroke-width="0.9" />
<line x1="44.50" y1="806.36" x2="46.20" y2="806.36" stroke-width="0.9" />
<line x1="44.50" y1="803.65" x2="46.20" y2="803.65" stroke-width="0.9" />
<line x1="44.50" y1="801.25" x2="46.20" y2="801.25" stroke-width="0.9" />
<line x1="43.00" y1="799.10" x2="46.20" y2="799.10" />
<line x1="44.50" y1="784.98" x2="46.20" y2="784.98" stroke-width="0.9" />
<line x1="44.50" y1="776.72" x2="46.20" y2="776.72" stroke-width="0.9" />
<line x1="44.50" y1="770.86" x2="46.20" y2="770.86" stroke-width="0.9" />
<line x1="44.50" y1="766.32" x2="46.20" y2="766.32" stroke-width="0.9" />
<line x1="44.50" y1="762.60" x2="46.20" y2="762.60" stroke-width="0.9" />
<line x1="44.50" y1="759.46" x2="46.20" y2="759.46" stroke-width="0.9" />
<line x1="44.50" y1="756.75" x2="46.20" y2="756.75" stroke-width="0.9" />
<line x1="44.50" y1="754.35" x2="46.20" y2="754.35" stroke-width="0.9" />
<line x1="43.00" y1="752.20" x2="46.20" y2="752.20" />
<line x1="44.50" y1="738.08" x2="46.20" y2="738.08" stroke-width="0.9" />
<line x1="44.50" y1="729.82" x2="46.20" y2="729.82" stroke-width="0.9" />
<line x1="44.50" y1="723.96" x2="46.20" y2="723.96" stroke-width="0.9" />
<line x1="44.50" y1="719.42" x2="46.20" y2="719.42" stroke-width="0.9" />
<line x1="44.50" y1="715.70" x2="46.20" y2="715.70" stroke-width="0.9" />
<line x1="44.50" y1="712.56" x2="46.20" y2="712.56" stroke-width="0.9" />
<line x1="44.50" y1="709.85" x2="46.20" y2="709.85" stroke-width="0.9" />
<line x1="44.50" y1="707.45" x2="46.20" y2="707.45" stroke-width="0.9" />
<line x1="43.00" y1="705.30" x2="46.20" y2="705.30" />
<line x1="52.30" y1="850.60" x2="52.30" y2="855.20" />
<line x1="66.45" y1="850.60" x2="66.45" y2="853.20" stroke-width="0.9" />
<line x1="74.72" y1="850.60" x2="74.72" y2="853.20" stroke-width="0.9" />
<line x1="80.60" y1="850.60" x2="80.60" y2="853.20" stroke-width="0.9" />
<line x1="85.15" y1="850.60" x2="85.15" y2="853.20" stroke-width="0.9" />
<line x1="88.87" y1="850.60" x2="88.87" y2="853.20" stroke-width="0.9" />
<line x1="92.02" y1="850.60" x2="92.02" y2="853.20" stroke-width="0.9" />
<line x1="94.75" y1="850.60" x2="94.75" y2="853.20" stroke-width="0.9" />
<line x1="97.15" y1="850.60" x2="97.15" y2="853.20" stroke-width="0.9" />
<line x1="99.30" y1="850.60" x2="99.30" y2="855.20" />
<line x1="113.45" y1="850.60" x2="113.45" y2="853.20" stroke-width="0.9" />
<line x1="121.72" y1="850.60" x2="121.72" y2="853.20" stroke-width="0.9" />
<line x1="127.60" y1="850.60" x2="127.60" y2="853.20" stroke-width="0.9" />
<line x1="132.15" y1="850.60" x2="132.15" y2="853.20" stroke-width="0.9" />
<line x1="135.87" y1="850.60" x2="135.87" y2="853.20" stroke-width="0.9" />
<line x1="139.02" y1="850.60" x2="139.02" y2="853.20" stroke-width="0.9" />
<line x1="141.75" y1="850.60" x2="141.75" y2="853.20" stroke-width="0.9" />
<line x1="144.15" y1="850.60" x2="144.15" y2="853.20" stroke-width="0.9" />
<line x1="146.30" y1="850.60" x2="146.30" y2="855.20" />
<line x1="160.45" y1="850.60" x2="160.45" y2="853.20" stroke-width="0.9" />
<line x1="168.72" y1="850.60" x2="168.72" y2="853.20" stroke-width="0.9" />
<line x1="174.60" y1="850.60" x2="174.60" y2="853.20" stroke-width="0.9" />
<line x1="179.15" y1="850.60" x2="179.15" y2="853.20" stroke-width="0.9" />
<line x1="182.87" y1="850.60" x2="182.87" y2="853.20" stroke-width="0.9" />
<line x1="186.02" y1="850.60" x2="186.02" y2="853.20" stroke-width="0.9" />
<line x1="188.75" y1="850.60" x2="188.75" y2="853.20" stroke-width="0.9" />
<line x1="191.15" y1="850.60" x2="191.15" y2="853.20" stroke-width="0.9" />
<line x1="193.30" y1="850.60" x2="193.30" y2="855.20" />
</g>
<text x="41.30" y="849.40" font-size="11.8" text-anchor="end" >10e0</text>
<text x="41.30" y="802.50" font-size="11.8" text-anchor="end" >10e1</text>
<text x="41.30" y="755.60" font-size="11.8" text-anchor="end" >10e2</text>
<text x="41.30" y="708.70" font-size="11.8" text-anchor="end" >10e3</text>
<text x="52.30" y="866.80" font-size="11.8" text-anchor="middle" >10e0</text>
<text x="99.30" y="866.80" font-size="11.8" text-anchor="middle" >10e1</text>
<text x="146.30" y="866.80" font-size="11.8" text-anchor="middle" >10e2</text>
<text x="193.30" y="866.80" font-size="11.8" text-anchor="middle" >10e3</text>
<text x="4.10" y="697.40" font-size="21.5" text-anchor="start" >I</text>
<text x="112.70" y="698.60" font-size="16" text-anchor="middle" font-style="italic" >PV virus</text>
<text x="64.40" y="884.00" font-size="13.2">SNR<tspan font-size="10.6" dy="2.0">backgr</tspan><tspan dy="-2.0">, LED off</tspan></text>
<text transform="translate(12.10,827.20) rotate(-90)" font-size="13.2">SNR<tspan font-size="12.9" dy="1.8">backgr</tspan><tspan dy="-1.8">, LED on</tspan></text>
<circle cx="113.5" cy="825.5" r="4.3" fill="#fb1216" stroke="#fb1818" stroke-width="0.8"/>
<text x="125.90" y="830.70" font-size="13.4" text-anchor="start" font-style="italic" >Pyr, n = 20</text>
<circle cx="113.5" cy="840.3" r="3.9" fill="none" stroke="#fb1418" stroke-width="1.4"/>
<text x="122.60" y="846.00" font-size="13.4" text-anchor="start" font-style="italic" >Intern, n = 6</text>
<g fill="#7f7f7f" stroke="#000" stroke-width="1.1">
<rect x="301.20" y="830.45" width="9.15" height="18.25"/>
<rect x="310.35" y="812.50" width="9.15" height="36.20"/>
<rect x="319.50" y="812.50" width="9.15" height="36.20"/>
<rect x="328.65" y="776.60" width="9.15" height="72.10"/>
<rect x="337.80" y="704.80" width="9.15" height="143.90"/>
<rect x="346.95" y="812.50" width="9.15" height="36.20"/>
<rect x="365.25" y="830.45" width="9.15" height="18.25"/>
</g>
<g stroke="#000" stroke-width="1.3" fill="none">
<line x1="264.10" y1="703.60" x2="264.10" y2="849.50" />
<line x1="260.80" y1="848.70" x2="264.10" y2="848.70" />
<line x1="260.80" y1="776.90" x2="264.10" y2="776.90" />
<line x1="260.80" y1="705.10" x2="264.10" y2="705.10" />
<line x1="260.80" y1="812.80" x2="264.10" y2="812.80" />
<line x1="260.80" y1="741.00" x2="264.10" y2="741.00" />
<line x1="282.90" y1="848.70" x2="282.90" y2="853.10" />
<line x1="319.50" y1="848.70" x2="319.50" y2="853.10" />
<line x1="356.10" y1="848.70" x2="356.10" y2="853.10" />
<line x1="392.70" y1="848.70" x2="392.70" y2="853.10" />
</g>
<polyline points="264.70,848.70 265.31,848.70 265.92,848.70 266.53,848.70 267.15,848.70 267.76,848.70 268.37,848.70 268.98,848.70 269.59,848.70 270.20,848.70 270.82,848.70 271.43,848.70 272.04,848.70 272.65,848.70 273.26,848.70 273.88,848.70 274.49,848.70 275.10,848.70 275.71,848.70 276.32,848.70 276.93,848.70 277.55,848.70 278.16,848.70 278.77,848.70 279.38,848.70 279.99,848.70 280.60,848.70 281.21,848.70 281.83,848.70 282.44,848.70 283.05,848.70 283.66,848.70 284.27,848.70 284.88,848.70 285.50,848.70 286.11,848.70 286.72,848.70 287.33,848.70 287.94,848.70 288.56,848.70 289.17,848.70 289.78,848.70 290.39,848.70 291.00,848.70 291.61,848.70 292.22,848.70 292.84,848.70 293.45,848.70 294.06,848.70 294.67,848.70 295.28,848.70 295.89,848.70 296.51,848.70 297.12,848.70 297.73,848.70 298.34,848.70 298.95,848.70 299.56,848.70 300.18,848.70 300.79,848.70 301.40,848.70 302.01,848.70 302.62,848.70 303.24,848.70 303.85,848.70 304.46,848.70 305.07,848.70 305.68,848.69 306.29,848.69 306.90,848.69 307.52,848.68 308.13,848.67 308.74,848.66 309.35,848.65 309.96,848.62 310.57,848.59 311.19,848.55 311.80,848.49 312.41,848.40 313.02,848.29 313.63,848.15 314.25,847.95 314.86,847.70 315.47,847.37 316.08,846.95 316.69,846.41 317.30,845.74 317.91,844.89 318.53,843.85 319.14,842.57 319.75,841.02 320.36,839.16 320.97,836.94 321.58,834.33 322.20,831.29 322.81,827.77 323.42,823.75 324.03,819.21 324.64,814.13 325.25,808.52 325.87,802.37 326.48,795.74 327.09,788.65 327.70,781.18 328.31,773.41 328.93,765.44 329.54,757.40 330.15,749.41 330.76,741.62 331.37,734.17 331.98,727.22 332.60,720.92 333.21,715.41 333.82,710.81 334.43,707.24 335.04,704.78 335.65,703.50 336.26,703.42 336.88,704.54 337.49,706.85 338.10,710.27 338.71,714.74 339.32,720.13 339.94,726.34 340.55,733.21 341.16,740.60 341.77,748.35 342.38,756.33 342.99,764.37 343.61,772.36 344.22,780.16 344.83,787.67 345.44,794.81 346.05,801.51 346.66,807.73 347.27,813.41 347.89,818.57 348.50,823.18 349.11,827.26 349.72,830.85 350.33,833.95 350.94,836.62 351.56,838.89 352.17,840.79 352.78,842.38 353.39,843.69 354.00,844.77 354.62,845.64 355.23,846.33 355.84,846.89 356.45,847.32 357.06,847.66 357.67,847.92 358.28,848.12 358.90,848.28 359.51,848.39 360.12,848.48 360.73,848.54 361.34,848.59 361.95,848.62 362.57,848.64 363.18,848.66 363.79,848.67 364.40,848.68 365.01,848.69 365.62,848.69 366.24,848.69 366.85,848.70 367.46,848.70 368.07,848.70 368.68,848.70 369.30,848.70 369.91,848.70 370.52,848.70 371.13,848.70 371.74,848.70 372.35,848.70 372.97,848.70 373.58,848.70 374.19,848.70 374.80,848.70 375.41,848.70 376.02,848.70 376.63,848.70 377.25,848.70 377.86,848.70 378.47,848.70 379.08,848.70 379.69,848.70 380.31,848.70 380.92,848.70 381.53,848.70 382.14,848.70 382.75,848.70 383.36,848.70 383.98,848.70 384.59,848.70 385.20,848.70 385.81,848.70 386.42,848.70 387.03,848.70 387.64,848.70 388.26,848.70 388.87,848.70 389.48,848.70 390.09,848.70 390.70,848.70 391.31,848.70 391.93,848.70 392.54,848.70 393.15,848.70 393.76,848.70 394.37,848.70 394.99,848.70 395.60,848.70 396.21,848.70 396.82,848.70 397.43,848.70 398.04,848.70 398.65,848.70 399.27,848.70 399.88,848.70 400.49,848.70 401.10,848.70 401.71,848.70 402.32,848.70 402.94,848.70 403.55,848.70 404.16,848.70 404.77,848.70 405.38,848.70 406.00,848.70 406.61,848.70 407.22,848.70 407.83,848.70 408.44,848.70 409.05,848.70 409.67,848.70 410.28,848.70 410.89,848.70 411.50,848.70" fill="none" stroke="#d0d0d0" stroke-width="2.5" stroke-dasharray="4 3.6"/>
<line x1="264.10" y1="848.70" x2="411.50" y2="848.70" stroke-width="1.9" stroke="#d2d2d2"/>
<line x1="263.45" y1="848.70" x2="411.50" y2="848.70" stroke-width="2.0" stroke="#000" stroke-dasharray="4 3.9" stroke-dashoffset="1.45"/>
<text x="259.00" y="853.10" font-size="12.6" text-anchor="end" >0</text>
<text x="259.00" y="781.30" font-size="12.6" text-anchor="end" >4</text>
<text x="259.00" y="709.50" font-size="12.6" text-anchor="end" >8</text>
<text x="282.90" y="864.70" font-size="12" text-anchor="middle" >0.25</text>
<text x="319.50" y="864.70" font-size="12" text-anchor="middle" >1</text>
<text x="356.10" y="864.70" font-size="12" text-anchor="middle" >4</text>
<text x="392.70" y="864.70" font-size="12" text-anchor="middle" >16</text>
<text x="218.20" y="697.40" font-size="21.5" text-anchor="start" >J</text>
<text x="327.60" y="698.30" font-size="16" text-anchor="middle" font-style="italic" >PV virus</text>
<text transform="translate(233.40,768.50) rotate(-90)" font-size="12.1" text-anchor="middle">Number of units</text>
<text x="417.20" y="714.00" font-size="13.3" text-anchor="end" font-style="italic" >n = 20 Pyr</text>
<text x="277.00" y="885.40" font-size="12.2">SNR<tspan font-size="11" dy="0.8">backgr,</tspan></text>
<text x="360.05" y="878.90" font-size="11.8" text-anchor="middle" >LED on</text>
<text x="360.05" y="892.90" font-size="11.8" text-anchor="middle" >LED off</text>
<line x1="336.00" y1="882.50" x2="384.10" y2="882.50" stroke="#000" stroke-width="0.9"/>
</g></svg>
</body></html>
